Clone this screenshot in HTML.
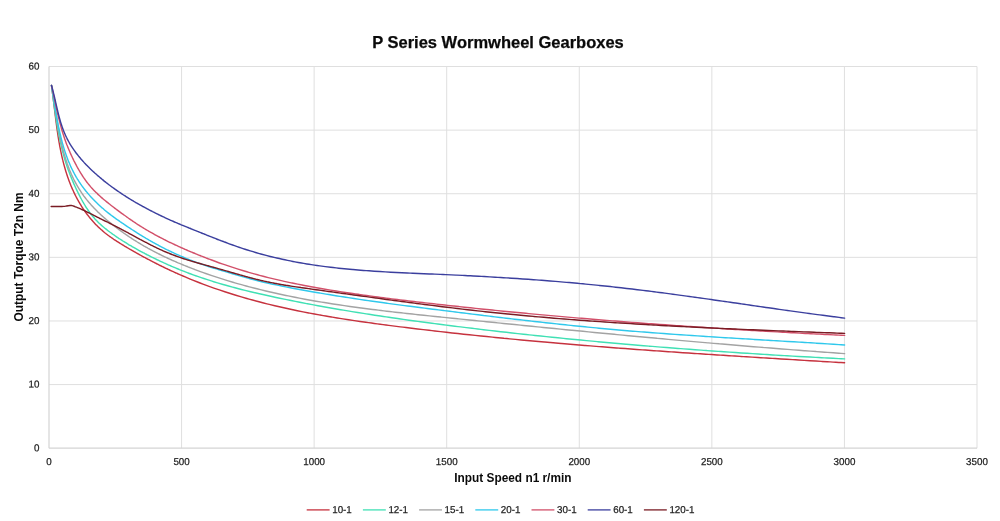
<!DOCTYPE html>
<html lang="en"><head><meta charset="utf-8"><title>P Series Wormwheel Gearboxes</title>
<style>
html,body{margin:0;padding:0;background:#fff;}
body{width:1000px;height:521px;overflow:hidden;font-family:"Liberation Sans",Arial,sans-serif;}
svg{display:block;}
.tick{font-family:"Liberation Sans",Arial,sans-serif;font-size:10.0px;fill:#1e1e1e;stroke:#1e1e1e;stroke-width:0.25px;}
.ttl{font-family:"Liberation Sans",Arial,sans-serif;font-weight:bold;fill:#0a0a0a;}
.ln{fill:none;stroke-width:1.42;stroke-linejoin:round;stroke-linecap:round;}
</style></head><body>
<svg width="1000" height="521" viewBox="0 0 1000 521">
<rect width="1000" height="521" fill="#ffffff"/>
<g stroke="#dfdfdf" stroke-width="1" fill="none"><line x1="49.00" y1="384.58" x2="977.00" y2="384.58"/><line x1="49.00" y1="320.97" x2="977.00" y2="320.97"/><line x1="49.00" y1="257.35" x2="977.00" y2="257.35"/><line x1="49.00" y1="193.73" x2="977.00" y2="193.73"/><line x1="49.00" y1="130.12" x2="977.00" y2="130.12"/><line x1="49.00" y1="66.50" x2="977.00" y2="66.50"/><line x1="181.57" y1="66.50" x2="181.57" y2="448.20"/><line x1="314.14" y1="66.50" x2="314.14" y2="448.20"/><line x1="446.71" y1="66.50" x2="446.71" y2="448.20"/><line x1="579.29" y1="66.50" x2="579.29" y2="448.20"/><line x1="711.86" y1="66.50" x2="711.86" y2="448.20"/><line x1="844.43" y1="66.50" x2="844.43" y2="448.20"/><line x1="977.00" y1="66.50" x2="977.00" y2="448.20"/></g>
<g stroke="#d4d4d4" stroke-width="1.2" fill="none"><line x1="49.00" y1="66.50" x2="49.00" y2="448.20"/><line x1="49.00" y1="448.20" x2="977.00" y2="448.20"/></g>
<text class="tick" transform="translate(39.50 451.20) rotate(0.05) scale(0.980 1)" text-anchor="end">0</text>
<text class="tick" transform="translate(39.50 387.58) rotate(0.05) scale(0.980 1)" text-anchor="end">10</text>
<text class="tick" transform="translate(39.50 323.97) rotate(0.05) scale(0.980 1)" text-anchor="end">20</text>
<text class="tick" transform="translate(39.50 260.35) rotate(0.05) scale(0.980 1)" text-anchor="end">30</text>
<text class="tick" transform="translate(39.50 196.73) rotate(0.05) scale(0.980 1)" text-anchor="end">40</text>
<text class="tick" transform="translate(39.50 133.12) rotate(0.05) scale(0.980 1)" text-anchor="end">50</text>
<text class="tick" transform="translate(39.50 69.50) rotate(0.05) scale(0.980 1)" text-anchor="end">60</text>
<text class="tick" transform="translate(49.00 465.00) rotate(0.05) scale(0.980 1)" text-anchor="middle">0</text>
<text class="tick" transform="translate(181.57 465.00) rotate(0.05) scale(0.980 1)" text-anchor="middle">500</text>
<text class="tick" transform="translate(314.14 465.00) rotate(0.05) scale(0.980 1)" text-anchor="middle">1000</text>
<text class="tick" transform="translate(446.71 465.00) rotate(0.05) scale(0.980 1)" text-anchor="middle">1500</text>
<text class="tick" transform="translate(579.29 465.00) rotate(0.05) scale(0.980 1)" text-anchor="middle">2000</text>
<text class="tick" transform="translate(711.86 465.00) rotate(0.05) scale(0.980 1)" text-anchor="middle">2500</text>
<text class="tick" transform="translate(844.43 465.00) rotate(0.05) scale(0.980 1)" text-anchor="middle">3000</text>
<text class="tick" transform="translate(977.00 465.00) rotate(0.05) scale(0.980 1)" text-anchor="middle">3500</text>
<text class="ttl" x="498.0" y="47.9" stroke="#0a0a0a" stroke-width="0.25" text-anchor="middle" font-size="16.5">P Series Wormwheel Gearboxes</text>
<text class="ttl" x="512.9" y="482.4" text-anchor="middle" font-size="11.85">Input Speed n1 r/min</text>
<text class="ttl" transform="translate(22.5 257.0) rotate(-90)" text-anchor="middle" font-size="11.95">Output Torque T2n Nm</text>
<path class="ln" stroke="#c6323e" d="M51.50 85.50 C51.55 85.85 51.70 86.89 51.79 87.59 C51.89 88.28 52.00 89.06 52.08 89.68 C52.16 90.29 52.24 90.91 52.29 91.25 C52.33 91.60 52.30 91.33 52.36 91.76 C52.41 92.20 52.54 93.15 52.63 93.85 C52.72 94.55 52.83 95.41 52.89 95.94 C52.96 96.46 52.98 96.66 53.03 97.01 C53.07 97.35 53.09 97.51 53.16 98.03 C53.22 98.54 53.33 99.42 53.41 100.11 C53.50 100.81 53.61 101.76 53.67 102.20 C53.72 102.64 53.69 102.41 53.74 102.76 C53.78 103.11 53.85 103.68 53.92 104.29 C53.99 104.89 54.09 105.68 54.17 106.37 C54.26 107.07 54.38 108.10 54.42 108.46 C54.46 108.81 54.39 108.16 54.43 108.51 C54.47 108.85 54.59 109.85 54.67 110.54 C54.76 111.23 54.85 112.01 54.92 112.62 C55.00 113.24 55.08 113.90 55.12 114.25 C55.16 114.60 55.13 114.28 55.18 114.71 C55.23 115.13 55.35 116.09 55.43 116.79 C55.52 117.48 55.63 118.34 55.69 118.87 C55.76 119.40 55.79 119.64 55.83 119.98 C55.88 120.33 55.89 120.44 55.95 120.95 C56.02 121.46 56.13 122.33 56.22 123.03 C56.31 123.72 56.44 124.66 56.50 125.10 C56.55 125.55 56.53 125.36 56.58 125.71 C56.62 126.06 56.69 126.59 56.78 127.18 C56.86 127.77 56.97 128.56 57.06 129.25 C57.16 129.95 57.31 130.96 57.36 131.33 C57.41 131.69 57.32 131.08 57.37 131.42 C57.42 131.77 57.56 132.72 57.66 133.40 C57.76 134.07 57.88 134.85 57.97 135.47 C58.07 136.09 58.18 136.78 58.23 137.13 C58.29 137.47 58.23 137.12 58.30 137.53 C58.37 137.95 58.52 138.91 58.63 139.60 C58.75 140.29 58.89 141.13 58.98 141.66 C59.07 142.20 59.12 142.47 59.18 142.82 C59.24 143.16 59.25 143.23 59.34 143.73 C59.43 144.22 59.59 145.10 59.71 145.78 C59.84 146.47 60.01 147.39 60.10 147.84 C60.19 148.29 60.16 148.15 60.23 148.49 C60.29 148.83 60.39 149.32 60.50 149.90 C60.62 150.47 60.78 151.27 60.92 151.95 C61.06 152.63 61.28 153.63 61.36 154.00 C61.43 154.37 61.31 153.80 61.39 154.15 C61.46 154.49 61.66 155.39 61.81 156.05 C61.96 156.70 62.13 157.47 62.28 158.09 C62.42 158.71 62.60 159.44 62.68 159.78 C62.76 160.12 62.67 159.74 62.77 160.13 C62.87 160.53 63.10 161.49 63.28 162.17 C63.45 162.85 63.67 163.67 63.81 164.21 C63.95 164.75 64.03 165.06 64.13 165.39 C64.22 165.73 64.22 165.76 64.36 166.24 C64.49 166.72 64.74 167.59 64.93 168.27 C65.13 168.94 65.39 169.84 65.53 170.29 C65.66 170.74 65.63 170.64 65.73 170.97 C65.84 171.31 65.97 171.75 66.14 172.30 C66.32 172.86 66.57 173.64 66.79 174.31 C67.00 174.98 67.33 175.95 67.45 176.31 C67.57 176.68 67.40 176.17 67.52 176.50 C67.63 176.83 67.92 177.67 68.14 178.31 C68.37 178.94 68.63 179.68 68.86 180.29 C69.08 180.90 69.37 181.64 69.49 181.97 C69.61 182.30 69.45 181.89 69.60 182.26 C69.75 182.64 70.11 183.58 70.37 184.23 C70.63 184.88 70.95 185.66 71.17 186.18 C71.38 186.70 71.53 187.04 71.67 187.36 C71.80 187.69 71.80 187.68 71.99 188.12 C72.19 188.57 72.56 189.41 72.85 190.05 C73.14 190.70 73.53 191.54 73.73 191.97 C73.93 192.41 73.90 192.35 74.06 192.66 C74.21 192.98 74.39 193.36 74.64 193.88 C74.89 194.39 75.26 195.14 75.58 195.77 C75.90 196.39 76.37 197.29 76.55 197.64 C76.73 197.99 76.50 197.55 76.67 197.86 C76.84 198.17 77.23 198.92 77.55 199.50 C77.87 200.08 78.26 200.77 78.59 201.35 C78.91 201.92 79.34 202.64 79.51 202.94 C79.69 203.25 79.44 202.83 79.65 203.17 C79.85 203.51 80.37 204.38 80.74 204.98 C81.11 205.58 81.56 206.29 81.87 206.77 C82.18 207.26 82.40 207.60 82.59 207.89 C82.79 208.19 82.76 208.15 83.03 208.55 C83.30 208.95 83.81 209.72 84.22 210.30 C84.62 210.88 85.15 211.63 85.44 212.03 C85.72 212.43 85.71 212.41 85.92 212.70 C86.12 212.98 86.34 213.29 86.69 213.74 C87.03 214.20 87.53 214.87 87.97 215.43 C88.40 215.98 89.03 216.77 89.28 217.09 C89.53 217.40 89.24 217.05 89.47 217.32 C89.69 217.59 90.20 218.22 90.62 218.72 C91.04 219.22 91.55 219.82 91.98 220.32 C92.42 220.83 93.00 221.48 93.24 221.74 C93.47 222.00 93.12 221.61 93.38 221.90 C93.64 222.18 94.32 222.93 94.80 223.44 C95.28 223.95 95.85 224.54 96.25 224.95 C96.66 225.36 96.97 225.68 97.22 225.92 C97.46 226.17 97.39 226.10 97.73 226.43 C98.07 226.75 98.73 227.40 99.23 227.87 C99.74 228.34 100.40 228.95 100.76 229.27 C101.12 229.60 101.14 229.61 101.40 229.84 C101.65 230.07 101.90 230.29 102.31 230.64 C102.73 231.00 103.36 231.53 103.89 231.97 C104.42 232.41 105.18 233.01 105.49 233.26 C105.80 233.52 105.49 233.27 105.76 233.48 C106.03 233.69 106.61 234.15 107.11 234.53 C107.61 234.91 108.23 235.37 108.75 235.76 C109.28 236.15 110.01 236.67 110.29 236.87 C110.56 237.07 110.11 236.75 110.42 236.96 C110.72 237.17 111.53 237.75 112.10 238.14 C112.66 238.53 113.32 238.97 113.79 239.30 C114.27 239.62 114.67 239.88 114.95 240.07 C115.24 240.26 115.12 240.18 115.50 240.43 C115.88 240.68 116.65 241.18 117.23 241.55 C117.81 241.92 118.55 242.39 118.97 242.65 C119.39 242.91 119.44 242.94 119.73 243.12 C120.02 243.30 120.26 243.46 120.72 243.74 C121.18 244.02 121.90 244.46 122.48 244.82 C123.07 245.17 123.91 245.67 124.26 245.88 C124.61 246.10 124.30 245.91 124.59 246.09 C124.89 246.26 125.50 246.63 126.04 246.95 C126.58 247.27 127.25 247.66 127.83 248.01 C128.41 248.35 129.23 248.83 129.53 249.00 C129.83 249.18 129.31 248.87 129.62 249.06 C129.94 249.24 130.83 249.76 131.43 250.11 C132.03 250.45 132.73 250.85 133.24 251.15 C133.75 251.44 134.21 251.70 134.52 251.87 C134.82 252.05 134.66 251.96 135.06 252.18 C135.45 252.41 136.28 252.87 136.89 253.21 C137.50 253.55 138.27 253.99 138.72 254.24 C139.16 254.48 139.25 254.53 139.56 254.70 C139.87 254.87 140.08 254.99 140.56 255.25 C141.03 255.51 141.79 255.93 142.40 256.26 C143.02 256.60 143.88 257.07 144.26 257.27 C144.63 257.47 144.34 257.32 144.65 257.48 C144.96 257.65 145.56 257.97 146.12 258.27 C146.67 258.56 147.37 258.93 147.98 259.26 C148.59 259.58 149.48 260.05 149.80 260.21 C150.11 260.38 149.53 260.07 149.85 260.24 C150.17 260.41 151.10 260.89 151.73 261.22 C152.35 261.54 153.07 261.91 153.61 262.19 C154.15 262.47 154.66 262.73 154.98 262.89 C155.29 263.05 155.10 262.95 155.50 263.15 C155.90 263.35 156.76 263.79 157.39 264.10 C158.02 264.42 158.82 264.82 159.29 265.05 C159.76 265.28 159.88 265.35 160.20 265.50 C160.52 265.66 160.71 265.75 161.19 265.99 C161.67 266.23 162.46 266.61 163.09 266.92 C163.73 267.23 164.61 267.65 165.00 267.84 C165.40 268.04 165.14 267.91 165.46 268.06 C165.78 268.22 166.36 268.49 166.92 268.76 C167.48 269.03 168.20 269.37 168.84 269.67 C169.48 269.97 170.43 270.41 170.75 270.56 C171.07 270.71 170.44 270.41 170.76 270.56 C171.08 270.71 172.04 271.16 172.69 271.45 C173.33 271.75 174.05 272.08 174.62 272.33 C175.18 272.59 175.74 272.84 176.06 272.99 C176.39 273.13 176.15 273.02 176.55 273.20 C176.95 273.38 177.84 273.78 178.48 274.07 C179.13 274.35 179.94 274.71 180.42 274.92 C180.91 275.13 181.08 275.21 181.40 275.35 C181.73 275.49 181.47 275.38 182.37 275.76 C183.26 276.14 185.13 276.95 186.76 277.63 C188.39 278.32 190.35 279.12 192.14 279.85 C193.94 280.58 195.74 281.30 197.54 282.00 C199.34 282.71 201.15 283.40 202.96 284.08 C204.77 284.77 206.58 285.44 208.39 286.10 C210.21 286.76 212.03 287.41 213.85 288.05 C215.67 288.69 217.49 289.32 219.31 289.94 C221.14 290.56 222.97 291.17 224.80 291.77 C226.63 292.36 228.46 292.95 230.30 293.53 C232.14 294.11 233.98 294.68 235.82 295.24 C237.66 295.80 239.50 296.36 241.35 296.90 C243.19 297.44 245.04 297.97 246.89 298.50 C248.74 299.02 250.60 299.54 252.45 300.04 C254.31 300.55 256.17 301.05 258.03 301.54 C259.89 302.03 261.75 302.51 263.61 302.98 C265.48 303.46 267.34 303.92 269.21 304.38 C271.08 304.84 272.95 305.29 274.82 305.73 C276.69 306.17 278.57 306.61 280.44 307.03 C282.32 307.46 284.20 307.88 286.08 308.30 C287.96 308.71 289.84 309.12 291.72 309.51 C293.60 309.91 295.49 310.31 297.37 310.69 C299.26 311.08 301.15 311.46 303.04 311.83 C304.93 312.21 306.82 312.58 308.71 312.94 C310.60 313.30 312.49 313.65 314.39 314.00 C316.28 314.35 318.18 314.70 320.08 315.04 C321.98 315.38 323.87 315.71 325.77 316.04 C327.67 316.37 329.58 316.69 331.48 317.01 C333.38 317.33 335.28 317.64 337.19 317.95 C339.09 318.26 341.00 318.56 342.90 318.86 C344.81 319.17 346.72 319.46 348.63 319.75 C350.53 320.04 352.44 320.33 354.35 320.62 C356.26 320.90 358.17 321.18 360.08 321.46 C362.00 321.73 363.91 322.01 365.82 322.28 C367.73 322.55 369.65 322.81 371.56 323.07 C373.47 323.34 375.39 323.60 377.30 323.86 C379.22 324.11 381.13 324.37 383.05 324.62 C384.96 324.87 386.88 325.12 388.79 325.37 C390.71 325.62 392.63 325.87 394.54 326.11 C396.46 326.35 398.38 326.59 400.29 326.83 C402.21 327.07 404.13 327.31 406.05 327.55 C407.96 327.79 409.88 328.02 411.80 328.25 C413.71 328.49 415.63 328.72 417.55 328.95 C419.47 329.18 421.39 329.41 423.30 329.63 C425.22 329.86 427.14 330.09 429.06 330.31 C430.98 330.53 432.89 330.76 434.81 330.98 C436.73 331.20 438.65 331.42 440.57 331.63 C442.49 331.85 444.41 332.07 446.32 332.28 C448.24 332.50 450.16 332.71 452.08 332.92 C454.00 333.13 455.92 333.34 457.84 333.55 C459.76 333.76 461.68 333.97 463.60 334.17 C465.52 334.38 467.44 334.58 469.36 334.78 C471.28 334.99 473.20 335.19 475.12 335.39 C477.04 335.59 478.96 335.79 480.88 335.98 C482.80 336.18 484.72 336.38 486.64 336.57 C488.56 336.77 490.48 336.96 492.40 337.15 C494.32 337.34 496.24 337.53 498.16 337.72 C500.08 337.91 502.00 338.10 503.92 338.29 C505.84 338.47 507.77 338.66 509.69 338.84 C511.61 339.03 513.53 339.21 515.45 339.39 C517.37 339.57 519.29 339.75 521.22 339.93 C523.14 340.11 525.06 340.29 526.98 340.47 C528.90 340.64 530.82 340.82 532.75 340.99 C534.67 341.17 536.59 341.34 538.51 341.51 C540.43 341.68 542.36 341.86 544.28 342.03 C546.20 342.20 548.12 342.36 550.05 342.53 C551.97 342.70 553.89 342.87 555.81 343.03 C557.74 343.20 559.66 343.36 561.58 343.53 C563.50 343.69 565.43 343.85 567.35 344.01 C569.27 344.17 571.20 344.34 573.12 344.49 C575.04 344.65 576.96 344.81 578.89 344.97 C580.81 345.13 582.73 345.28 584.66 345.44 C586.58 345.60 588.50 345.75 590.43 345.90 C592.35 346.06 594.28 346.21 596.20 346.36 C598.12 346.51 600.05 346.66 601.97 346.81 C603.89 346.96 605.82 347.11 607.74 347.26 C609.67 347.41 611.59 347.56 613.51 347.70 C615.44 347.85 617.36 348.00 619.29 348.14 C621.21 348.29 623.13 348.43 625.06 348.57 C626.98 348.72 628.91 348.86 630.83 349.00 C632.76 349.14 634.68 349.29 636.61 349.43 C638.53 349.57 640.45 349.71 642.38 349.85 C644.30 349.98 646.23 350.12 648.15 350.26 C650.08 350.40 652.00 350.53 653.93 350.67 C655.85 350.81 657.78 350.94 659.70 351.08 C661.63 351.21 663.55 351.35 665.48 351.48 C667.40 351.61 669.33 351.75 671.25 351.88 C673.18 352.01 675.10 352.14 677.03 352.27 C678.95 352.40 680.88 352.54 682.80 352.67 C684.73 352.80 686.66 352.92 688.58 353.05 C690.51 353.18 692.43 353.31 694.36 353.44 C696.28 353.57 698.21 353.69 700.13 353.82 C702.06 353.95 703.99 354.07 705.91 354.20 C707.84 354.33 709.76 354.45 711.69 354.58 C713.61 354.70 715.54 354.83 717.47 354.95 C719.39 355.08 721.32 355.20 723.24 355.32 C725.17 355.45 727.09 355.57 729.02 355.69 C730.95 355.81 732.87 355.94 734.80 356.06 C736.72 356.18 738.65 356.30 740.58 356.42 C742.50 356.55 744.43 356.67 746.35 356.79 C748.28 356.91 750.21 357.03 752.13 357.15 C754.06 357.27 755.99 357.39 757.91 357.51 C759.84 357.63 761.76 357.75 763.69 357.87 C765.62 357.99 767.54 358.10 769.47 358.22 C771.40 358.34 773.32 358.46 775.25 358.58 C777.17 358.70 779.10 358.81 781.03 358.93 C782.95 359.05 784.88 359.17 786.81 359.29 C788.73 359.40 790.66 359.52 792.59 359.64 C794.51 359.76 796.44 359.87 798.36 359.99 C800.29 360.11 802.22 360.23 804.14 360.34 C806.07 360.46 808.00 360.58 809.92 360.69 C811.85 360.81 813.78 360.93 815.70 361.04 C817.63 361.16 819.56 361.28 821.48 361.40 C823.41 361.51 825.34 361.63 827.26 361.75 C829.19 361.86 831.11 361.98 833.04 362.10 C834.97 362.21 836.89 362.33 838.82 362.45 C840.75 362.57 843.64 362.74 844.60 362.80"/>
<path class="ln" stroke="#40e0b4" d="M51.50 85.50 C51.55 85.85 51.69 86.89 51.78 87.58 C51.88 88.27 51.98 89.06 52.06 89.66 C52.14 90.26 52.22 90.85 52.27 91.20 C52.31 91.54 52.28 91.30 52.34 91.74 C52.40 92.18 52.52 93.13 52.62 93.82 C52.71 94.52 52.82 95.39 52.89 95.91 C52.96 96.42 52.98 96.56 53.02 96.90 C53.07 97.25 53.10 97.46 53.17 97.99 C53.24 98.52 53.35 99.38 53.45 100.08 C53.54 100.77 53.67 101.74 53.73 102.16 C53.78 102.58 53.74 102.26 53.79 102.61 C53.83 102.96 53.92 103.63 54.01 104.24 C54.09 104.86 54.20 105.65 54.29 106.33 C54.39 107.01 54.52 107.97 54.57 108.32 C54.62 108.67 54.53 108.05 54.58 108.41 C54.63 108.78 54.77 109.80 54.87 110.50 C54.97 111.19 55.09 111.99 55.17 112.58 C55.26 113.17 55.33 113.68 55.38 114.03 C55.43 114.37 55.41 114.21 55.47 114.66 C55.54 115.11 55.68 116.05 55.78 116.74 C55.89 117.43 56.02 118.32 56.10 118.82 C56.18 119.32 56.19 119.37 56.24 119.72 C56.29 120.07 56.34 120.35 56.42 120.90 C56.51 121.44 56.64 122.28 56.76 122.97 C56.87 123.66 57.03 124.64 57.10 125.04 C57.17 125.45 57.10 125.06 57.16 125.40 C57.22 125.75 57.34 126.48 57.45 127.11 C57.56 127.74 57.69 128.52 57.81 129.18 C57.93 129.84 58.09 130.72 58.15 131.06 C58.21 131.41 58.11 130.87 58.18 131.24 C58.25 131.62 58.44 132.62 58.57 133.31 C58.70 133.99 58.85 134.80 58.96 135.36 C59.07 135.93 59.16 136.36 59.23 136.70 C59.30 137.04 59.28 136.96 59.37 137.42 C59.47 137.88 59.65 138.79 59.79 139.47 C59.94 140.15 60.13 141.04 60.23 141.52 C60.33 141.99 60.33 141.97 60.41 142.31 C60.48 142.65 60.56 143.01 60.68 143.56 C60.81 144.11 60.99 144.92 61.15 145.60 C61.31 146.28 61.54 147.25 61.63 147.63 C61.73 148.01 61.61 147.56 61.70 147.89 C61.78 148.23 61.98 149.03 62.13 149.66 C62.29 150.29 62.49 151.06 62.65 151.68 C62.82 152.31 63.03 153.10 63.12 153.44 C63.21 153.77 63.08 153.32 63.19 153.70 C63.29 154.08 63.56 155.05 63.74 155.72 C63.93 156.39 64.16 157.19 64.32 157.72 C64.47 158.26 64.58 158.61 64.68 158.94 C64.78 159.27 64.77 159.26 64.91 159.73 C65.05 160.19 65.32 161.06 65.53 161.72 C65.74 162.39 66.02 163.26 66.16 163.71 C66.31 164.16 66.28 164.07 66.39 164.40 C66.50 164.73 66.64 165.15 66.82 165.70 C67.01 166.24 67.27 167.02 67.50 167.67 C67.73 168.33 68.07 169.29 68.20 169.65 C68.33 170.00 68.14 169.49 68.26 169.81 C68.38 170.14 68.68 170.99 68.92 171.62 C69.15 172.24 69.43 172.98 69.66 173.58 C69.89 174.18 70.16 174.87 70.28 175.19 C70.41 175.52 70.27 175.16 70.42 175.54 C70.57 175.92 70.94 176.84 71.20 177.49 C71.46 178.15 71.79 178.94 72.00 179.45 C72.21 179.95 72.33 180.22 72.46 180.54 C72.60 180.87 72.62 180.93 72.83 181.39 C73.03 181.86 73.38 182.69 73.67 183.34 C73.95 183.99 74.34 184.86 74.53 185.28 C74.72 185.70 74.65 185.54 74.80 185.87 C74.95 186.19 75.16 186.67 75.42 187.22 C75.67 187.77 76.02 188.51 76.32 189.16 C76.63 189.80 77.09 190.75 77.25 191.09 C77.41 191.42 77.13 190.85 77.29 191.17 C77.44 191.49 77.88 192.39 78.19 193.01 C78.51 193.64 78.87 194.36 79.16 194.93 C79.45 195.50 79.76 196.10 79.93 196.42 C80.09 196.73 79.94 196.45 80.15 196.83 C80.35 197.22 80.81 198.10 81.15 198.72 C81.49 199.35 81.92 200.12 82.18 200.59 C82.44 201.06 82.55 201.24 82.72 201.55 C82.90 201.85 82.96 201.98 83.23 202.43 C83.49 202.88 83.94 203.65 84.29 204.25 C84.65 204.85 85.15 205.66 85.38 206.03 C85.61 206.41 85.48 206.20 85.67 206.49 C85.85 206.78 86.16 207.28 86.49 207.78 C86.82 208.29 87.24 208.93 87.62 209.50 C88.00 210.07 88.58 210.90 88.77 211.18 C88.96 211.46 88.58 210.91 88.78 211.18 C88.97 211.46 89.56 212.28 89.96 212.83 C90.36 213.37 90.82 213.98 91.18 214.44 C91.54 214.90 91.89 215.34 92.10 215.61 C92.31 215.87 92.17 215.69 92.44 216.02 C92.71 216.35 93.30 217.06 93.74 217.57 C94.18 218.08 94.76 218.71 95.09 219.09 C95.43 219.46 95.52 219.55 95.75 219.80 C95.98 220.04 96.13 220.20 96.49 220.57 C96.86 220.95 97.45 221.55 97.94 222.03 C98.43 222.51 99.13 223.17 99.44 223.46 C99.74 223.75 99.51 223.53 99.76 223.76 C100.02 224.00 100.51 224.45 100.97 224.86 C101.44 225.28 102.03 225.80 102.54 226.24 C103.06 226.68 103.80 227.30 104.07 227.53 C104.34 227.75 103.86 227.36 104.15 227.59 C104.43 227.82 105.23 228.48 105.78 228.92 C106.32 229.35 106.96 229.85 107.43 230.22 C107.89 230.58 108.30 230.89 108.58 231.10 C108.86 231.32 108.73 231.22 109.10 231.50 C109.46 231.77 110.22 232.34 110.78 232.75 C111.34 233.17 112.07 233.69 112.48 233.99 C112.88 234.28 112.93 234.31 113.21 234.51 C113.50 234.72 113.74 234.89 114.19 235.20 C114.64 235.52 115.33 236.00 115.91 236.40 C116.48 236.79 117.30 237.34 117.64 237.57 C117.98 237.80 117.65 237.58 117.94 237.77 C118.23 237.96 118.85 238.38 119.39 238.73 C119.92 239.08 120.58 239.51 121.15 239.87 C121.71 240.23 122.46 240.71 122.75 240.89 C123.05 241.08 122.59 240.79 122.91 241.00 C123.24 241.20 124.10 241.74 124.69 242.11 C125.29 242.47 125.99 242.90 126.48 243.20 C126.97 243.50 127.34 243.72 127.64 243.90 C127.94 244.08 127.87 244.04 128.28 244.28 C128.68 244.52 129.48 245.00 130.08 245.35 C130.69 245.71 131.48 246.16 131.90 246.41 C132.32 246.65 132.30 246.64 132.61 246.81 C132.91 246.99 133.23 247.17 133.73 247.45 C134.22 247.73 134.95 248.15 135.56 248.49 C136.17 248.83 137.05 249.32 137.40 249.52 C137.74 249.71 137.32 249.47 137.63 249.64 C137.94 249.81 138.67 250.22 139.25 250.53 C139.83 250.85 140.52 251.23 141.10 251.54 C141.68 251.85 142.40 252.24 142.71 252.40 C143.02 252.57 142.61 252.35 142.97 252.54 C143.32 252.72 144.21 253.20 144.83 253.52 C145.46 253.85 146.21 254.24 146.71 254.50 C147.21 254.76 147.53 254.92 147.85 255.09 C148.16 255.25 148.15 255.24 148.59 255.47 C149.03 255.69 149.85 256.11 150.48 256.42 C151.11 256.74 151.95 257.16 152.38 257.37 C152.80 257.58 152.71 257.54 153.03 257.69 C153.35 257.85 153.75 258.05 154.28 258.31 C154.81 258.57 155.55 258.93 156.19 259.24 C156.82 259.54 157.75 259.99 158.10 260.15 C158.44 260.32 157.94 260.08 158.26 260.23 C158.58 260.38 159.40 260.77 160.02 261.06 C160.63 261.35 161.36 261.68 161.94 261.95 C162.52 262.22 163.20 262.53 163.52 262.68 C163.84 262.83 163.49 262.67 163.87 262.84 C164.25 263.01 165.16 263.42 165.80 263.71 C166.45 264.00 167.23 264.36 167.74 264.58 C168.24 264.80 168.50 264.92 168.83 265.06 C169.15 265.20 169.21 265.23 169.68 265.43 C170.15 265.64 170.98 266.00 171.63 266.28 C172.27 266.56 173.15 266.93 173.57 267.11 C174.00 267.29 173.83 267.22 174.16 267.36 C174.48 267.49 174.97 267.70 175.53 267.93 C176.08 268.16 176.83 268.48 177.48 268.74 C178.14 269.01 179.11 269.41 179.44 269.54 C179.78 269.68 179.19 269.44 179.52 269.58 C179.85 269.71 180.77 270.08 181.41 270.33 C182.05 270.59 182.79 270.88 183.37 271.11 C183.96 271.34 184.57 271.58 184.90 271.71 C185.23 271.84 184.94 271.73 185.34 271.88 C185.74 272.04 186.49 272.32 187.31 272.64 C188.14 272.95 188.90 273.25 190.31 273.77 C191.71 274.28 193.91 275.09 195.72 275.74 C197.53 276.38 199.34 277.01 201.16 277.63 C202.97 278.25 204.78 278.85 206.60 279.44 C208.42 280.04 210.24 280.62 212.06 281.19 C213.88 281.76 215.71 282.32 217.53 282.86 C219.36 283.41 221.19 283.95 223.02 284.48 C224.85 285.01 226.68 285.52 228.52 286.03 C230.35 286.54 232.19 287.04 234.03 287.53 C235.87 288.02 237.71 288.50 239.55 288.97 C241.39 289.45 243.24 289.91 245.08 290.37 C246.93 290.83 248.78 291.28 250.63 291.72 C252.48 292.16 254.33 292.60 256.18 293.03 C258.04 293.46 259.89 293.89 261.75 294.31 C263.61 294.73 265.47 295.14 267.33 295.55 C269.19 295.96 271.05 296.37 272.91 296.77 C274.78 297.17 276.64 297.57 278.51 297.96 C280.38 298.35 282.25 298.74 284.11 299.13 C285.98 299.51 287.86 299.90 289.73 300.27 C291.60 300.65 293.48 301.03 295.35 301.40 C297.23 301.77 299.10 302.14 300.98 302.50 C302.86 302.87 304.74 303.23 306.62 303.59 C308.50 303.95 310.38 304.30 312.27 304.65 C314.15 305.01 316.03 305.35 317.92 305.70 C319.81 306.05 321.69 306.39 323.58 306.73 C325.47 307.07 327.36 307.40 329.25 307.73 C331.14 308.07 333.03 308.40 334.92 308.73 C336.81 309.05 338.70 309.38 340.60 309.70 C342.49 310.02 344.39 310.34 346.28 310.65 C348.18 310.97 350.07 311.28 351.97 311.59 C353.87 311.90 355.77 312.21 357.67 312.52 C359.56 312.82 361.46 313.12 363.36 313.42 C365.26 313.72 367.17 314.02 369.07 314.32 C370.97 314.61 372.87 314.90 374.77 315.19 C376.68 315.48 378.58 315.77 380.48 316.06 C382.39 316.34 384.29 316.63 386.20 316.91 C388.10 317.19 390.01 317.47 391.91 317.74 C393.82 318.02 395.73 318.29 397.63 318.57 C399.54 318.84 401.44 319.11 403.35 319.38 C405.26 319.65 407.17 319.91 409.07 320.18 C410.98 320.44 412.89 320.70 414.80 320.97 C416.71 321.23 418.61 321.49 420.52 321.74 C422.43 322.00 424.34 322.26 426.25 322.51 C428.16 322.76 430.07 323.01 431.97 323.27 C433.88 323.52 435.79 323.76 437.70 324.01 C439.61 324.26 441.52 324.51 443.43 324.75 C445.34 324.99 447.24 325.24 449.15 325.48 C451.06 325.72 452.97 325.96 454.88 326.20 C456.79 326.44 458.69 326.68 460.60 326.91 C462.51 327.15 464.42 327.38 466.32 327.62 C468.23 327.85 470.14 328.08 472.05 328.31 C473.96 328.54 475.86 328.77 477.77 329.00 C479.68 329.23 481.58 329.46 483.49 329.68 C485.40 329.91 487.31 330.13 489.21 330.35 C491.12 330.58 493.03 330.80 494.93 331.02 C496.84 331.24 498.75 331.46 500.65 331.67 C502.56 331.89 504.47 332.11 506.37 332.32 C508.28 332.54 510.19 332.75 512.09 332.96 C514.00 333.18 515.91 333.39 517.81 333.60 C519.72 333.81 521.63 334.01 523.53 334.22 C525.44 334.43 527.34 334.63 529.25 334.84 C531.16 335.04 533.06 335.25 534.97 335.45 C536.88 335.65 538.78 335.85 540.69 336.05 C542.59 336.25 544.50 336.45 546.41 336.65 C548.31 336.84 550.22 337.04 552.13 337.24 C554.03 337.43 555.94 337.62 557.84 337.82 C559.75 338.01 561.66 338.20 563.56 338.39 C565.47 338.58 567.37 338.77 569.28 338.96 C571.19 339.14 573.09 339.33 575.00 339.52 C576.91 339.70 578.81 339.89 580.72 340.07 C582.62 340.25 584.53 340.43 586.44 340.61 C588.34 340.79 590.25 340.97 592.16 341.15 C594.06 341.33 595.97 341.51 597.88 341.68 C599.78 341.86 601.69 342.03 603.60 342.21 C605.50 342.38 607.41 342.55 609.32 342.73 C611.22 342.90 613.13 343.07 615.04 343.24 C616.94 343.41 618.85 343.57 620.76 343.74 C622.66 343.91 624.57 344.08 626.48 344.24 C628.38 344.41 630.29 344.57 632.20 344.73 C634.11 344.89 636.01 345.06 637.92 345.22 C639.83 345.38 641.74 345.54 643.64 345.70 C645.55 345.85 647.46 346.01 649.37 346.17 C651.28 346.32 653.18 346.48 655.09 346.63 C657.00 346.79 658.91 346.94 660.82 347.09 C662.72 347.25 664.63 347.40 666.54 347.55 C668.45 347.70 670.36 347.85 672.27 348.00 C674.18 348.14 676.09 348.29 677.99 348.44 C679.90 348.58 681.81 348.73 683.72 348.87 C685.63 349.02 687.54 349.16 689.45 349.30 C691.36 349.45 693.27 349.59 695.18 349.73 C697.09 349.87 699.00 350.01 700.91 350.15 C702.82 350.29 704.73 350.42 706.64 350.56 C708.55 350.70 710.46 350.83 712.38 350.97 C714.29 351.10 716.20 351.23 718.11 351.37 C720.02 351.50 721.93 351.63 723.84 351.76 C725.76 351.89 727.67 352.02 729.58 352.15 C731.49 352.28 733.40 352.41 735.32 352.54 C737.23 352.67 739.14 352.79 741.06 352.92 C742.97 353.04 744.88 353.17 746.80 353.29 C748.71 353.42 750.62 353.54 752.54 353.66 C754.45 353.78 756.36 353.90 758.28 354.03 C760.19 354.15 762.11 354.26 764.02 354.38 C765.94 354.50 767.85 354.62 769.77 354.74 C771.68 354.85 773.60 354.97 775.51 355.09 C777.43 355.20 779.35 355.32 781.26 355.43 C783.18 355.54 785.09 355.66 787.01 355.77 C788.93 355.88 790.85 355.99 792.76 356.10 C794.68 356.21 796.60 356.32 798.52 356.43 C800.43 356.54 802.35 356.65 804.27 356.76 C806.19 356.86 808.11 356.97 810.03 357.08 C811.94 357.18 813.86 357.29 815.78 357.39 C817.70 357.49 819.62 357.60 821.54 357.70 C823.46 357.80 825.38 357.91 827.30 358.01 C829.23 358.11 831.15 358.21 833.07 358.31 C834.99 358.41 836.91 358.51 838.83 358.61 C840.76 358.71 843.64 358.85 844.60 358.90"/>
<path class="ln" stroke="#a3a3a3" d="M51.50 85.50 C51.56 85.84 51.74 86.84 51.86 87.52 C51.98 88.19 52.11 88.96 52.21 89.54 C52.31 90.12 52.40 90.66 52.46 91.00 C52.52 91.34 52.49 91.14 52.56 91.58 C52.63 92.01 52.79 92.94 52.90 93.62 C53.01 94.30 53.15 95.18 53.23 95.67 C53.31 96.16 53.32 96.22 53.37 96.56 C53.43 96.90 53.47 97.18 53.56 97.72 C53.64 98.26 53.78 99.10 53.88 99.78 C53.99 100.47 54.14 101.45 54.21 101.85 C54.27 102.25 54.20 101.82 54.26 102.17 C54.31 102.52 54.43 103.29 54.53 103.92 C54.62 104.56 54.75 105.35 54.85 106.00 C54.95 106.65 55.07 107.47 55.13 107.82 C55.18 108.16 55.11 107.69 55.17 108.08 C55.23 108.47 55.38 109.47 55.49 110.17 C55.59 110.86 55.72 111.70 55.81 112.25 C55.90 112.81 55.95 113.14 56.00 113.49 C56.06 113.84 56.06 113.85 56.14 114.34 C56.21 114.84 56.35 115.74 56.47 116.44 C56.58 117.13 56.73 118.07 56.80 118.53 C56.87 118.99 56.85 118.83 56.90 119.18 C56.96 119.52 57.04 120.03 57.14 120.62 C57.24 121.21 57.37 122.02 57.49 122.72 C57.60 123.42 57.78 124.45 57.84 124.81 C57.90 125.17 57.79 124.52 57.85 124.87 C57.91 125.22 58.08 126.22 58.20 126.91 C58.33 127.59 58.47 128.39 58.58 129.00 C58.69 129.60 58.80 130.20 58.86 130.55 C58.92 130.90 58.88 130.65 58.96 131.09 C59.04 131.52 59.22 132.48 59.35 133.17 C59.49 133.87 59.66 134.75 59.76 135.26 C59.86 135.77 59.88 135.87 59.95 136.22 C60.02 136.57 60.07 136.81 60.18 137.34 C60.29 137.87 60.47 138.72 60.61 139.41 C60.76 140.11 60.97 141.08 61.06 141.49 C61.15 141.89 61.07 141.51 61.15 141.86 C61.22 142.20 61.38 142.93 61.53 143.55 C61.67 144.18 61.86 144.96 62.01 145.61 C62.17 146.26 62.38 147.11 62.46 147.46 C62.54 147.80 62.42 147.29 62.51 147.67 C62.61 148.04 62.85 149.03 63.03 149.71 C63.21 150.39 63.42 151.20 63.57 151.75 C63.71 152.30 63.82 152.67 63.91 153.00 C64.00 153.34 63.99 153.32 64.13 153.78 C64.26 154.25 64.51 155.13 64.71 155.81 C64.91 156.48 65.18 157.37 65.31 157.82 C65.45 158.27 65.41 158.16 65.52 158.49 C65.62 158.83 65.76 159.27 65.94 159.82 C66.12 160.38 66.37 161.16 66.59 161.82 C66.81 162.48 67.15 163.45 67.27 163.80 C67.39 164.15 67.19 163.58 67.30 163.91 C67.42 164.23 67.74 165.14 67.97 165.77 C68.20 166.41 68.48 167.16 68.70 167.73 C68.92 168.31 69.16 168.91 69.28 169.24 C69.41 169.56 69.30 169.28 69.46 169.68 C69.62 170.08 69.98 170.97 70.25 171.62 C70.51 172.26 70.86 173.06 71.06 173.54 C71.27 174.01 71.33 174.15 71.47 174.47 C71.62 174.79 71.69 174.97 71.91 175.44 C72.13 175.92 72.49 176.71 72.79 177.34 C73.09 177.97 73.52 178.84 73.70 179.22 C73.88 179.59 73.74 179.29 73.89 179.60 C74.05 179.91 74.35 180.52 74.64 181.08 C74.93 181.63 75.30 182.33 75.62 182.92 C75.93 183.51 76.38 184.31 76.55 184.61 C76.71 184.92 76.44 184.43 76.62 184.75 C76.81 185.08 77.31 185.96 77.66 186.56 C78.02 187.16 78.44 187.87 78.74 188.36 C79.03 188.85 79.26 189.20 79.44 189.50 C79.63 189.79 79.59 189.73 79.84 190.13 C80.10 190.53 80.60 191.31 80.99 191.89 C81.37 192.47 81.90 193.23 82.17 193.62 C82.43 194.02 82.40 193.96 82.60 194.25 C82.80 194.53 83.04 194.88 83.38 195.34 C83.72 195.81 84.21 196.48 84.63 197.04 C85.05 197.60 85.69 198.41 85.92 198.71 C86.15 199.01 85.80 198.57 86.02 198.84 C86.24 199.12 86.81 199.84 87.24 200.36 C87.67 200.89 88.19 201.51 88.59 202.00 C89.00 202.48 89.46 203.01 89.69 203.28 C89.93 203.55 89.70 203.29 89.98 203.60 C90.26 203.92 90.92 204.66 91.39 205.19 C91.86 205.71 92.46 206.36 92.82 206.75 C93.19 207.14 93.33 207.29 93.57 207.54 C93.81 207.80 93.92 207.91 94.28 208.29 C94.64 208.66 95.26 209.30 95.75 209.80 C96.25 210.30 96.93 210.98 97.24 211.28 C97.55 211.59 97.34 211.38 97.59 211.63 C97.84 211.87 98.30 212.32 98.74 212.75 C99.19 213.17 99.77 213.72 100.26 214.18 C100.76 214.65 101.46 215.29 101.72 215.53 C101.97 215.77 101.52 215.36 101.79 215.60 C102.06 215.84 102.82 216.53 103.34 217.00 C103.86 217.46 104.46 217.99 104.90 218.37 C105.34 218.75 105.69 219.06 105.95 219.28 C106.21 219.51 106.12 219.43 106.47 219.73 C106.83 220.03 107.53 220.63 108.06 221.07 C108.59 221.51 109.29 222.09 109.66 222.39 C110.03 222.70 110.02 222.68 110.29 222.90 C110.55 223.12 110.84 223.35 111.28 223.70 C111.71 224.05 112.36 224.56 112.90 224.99 C113.45 225.42 114.24 226.04 114.54 226.27 C114.85 226.51 114.44 226.20 114.72 226.41 C114.99 226.62 115.67 227.14 116.20 227.54 C116.72 227.94 117.35 228.42 117.86 228.80 C118.37 229.18 118.96 229.61 119.24 229.82 C119.52 230.03 119.21 229.80 119.54 230.04 C119.87 230.28 120.66 230.86 121.22 231.27 C121.79 231.68 122.49 232.18 122.92 232.49 C123.36 232.80 123.56 232.94 123.85 233.14 C124.13 233.35 124.22 233.41 124.63 233.70 C125.05 233.99 125.78 234.49 126.36 234.89 C126.93 235.29 127.73 235.82 128.09 236.07 C128.45 236.32 128.25 236.18 128.54 236.37 C128.83 236.57 129.32 236.90 129.83 237.24 C130.34 237.57 131.01 238.01 131.59 238.39 C132.17 238.77 133.01 239.31 133.31 239.50 C133.60 239.69 133.05 239.34 133.35 239.53 C133.65 239.72 134.53 240.28 135.12 240.65 C135.72 241.03 136.40 241.45 136.91 241.76 C137.41 242.08 137.85 242.34 138.15 242.53 C138.45 242.71 138.31 242.63 138.70 242.86 C139.09 243.10 139.90 243.59 140.50 243.94 C141.11 244.30 141.89 244.76 142.31 245.01 C142.74 245.26 142.76 245.27 143.06 245.45 C143.37 245.62 143.65 245.79 144.13 246.07 C144.62 246.34 145.35 246.76 145.96 247.11 C146.57 247.45 147.45 247.94 147.80 248.13 C148.15 248.33 147.73 248.10 148.04 248.27 C148.35 248.43 149.07 248.83 149.65 249.15 C150.22 249.46 150.93 249.84 151.50 250.15 C152.07 250.45 152.77 250.82 153.08 250.98 C153.39 251.15 153.00 250.94 153.36 251.13 C153.72 251.32 154.60 251.78 155.23 252.10 C155.85 252.43 156.61 252.81 157.10 253.06 C157.59 253.31 157.86 253.45 158.17 253.60 C158.48 253.76 158.54 253.79 158.99 254.01 C159.44 254.24 160.24 254.64 160.88 254.95 C161.51 255.26 162.37 255.67 162.77 255.87 C163.18 256.07 163.00 255.98 163.31 256.13 C163.63 256.28 164.13 256.52 164.67 256.78 C165.22 257.04 165.95 257.38 166.58 257.68 C167.22 257.98 168.18 258.42 168.50 258.57 C168.82 258.72 168.18 258.42 168.50 258.57 C168.82 258.72 169.78 259.15 170.42 259.44 C171.06 259.73 171.79 260.06 172.34 260.31 C172.90 260.55 173.41 260.78 173.73 260.92 C174.06 261.07 173.86 260.98 174.27 261.16 C174.69 261.34 175.56 261.72 176.21 262.00 C176.86 262.28 177.68 262.64 178.15 262.84 C178.62 263.03 178.68 263.06 179.00 263.20 C179.33 263.33 179.59 263.45 180.09 263.66 C180.60 263.87 181.39 264.20 182.04 264.47 C182.69 264.74 183.62 265.11 184.00 265.27 C184.37 265.42 183.98 265.26 184.30 265.39 C184.63 265.53 185.35 265.82 185.96 266.06 C186.56 266.30 187.30 266.60 187.92 266.84 C188.53 267.08 189.31 267.39 189.63 267.52 C189.96 267.65 189.51 267.47 189.88 267.61 C190.25 267.76 191.19 268.12 191.85 268.37 C192.50 268.63 193.30 268.93 193.82 269.13 C194.34 269.33 193.90 269.17 194.99 269.57 C196.08 269.98 198.57 270.91 200.36 271.56 C202.16 272.21 203.95 272.85 205.75 273.48 C207.55 274.12 209.35 274.74 211.15 275.35 C212.96 275.96 214.76 276.56 216.57 277.16 C218.38 277.75 220.19 278.33 222.00 278.91 C223.82 279.48 225.63 280.04 227.45 280.60 C229.27 281.16 231.09 281.70 232.91 282.24 C234.73 282.78 236.55 283.30 238.38 283.82 C240.21 284.34 242.03 284.85 243.86 285.36 C245.69 285.86 247.53 286.35 249.36 286.84 C251.19 287.33 253.03 287.80 254.87 288.27 C256.71 288.74 258.54 289.20 260.39 289.66 C262.23 290.11 264.07 290.56 265.92 291.00 C267.76 291.44 269.61 291.87 271.46 292.29 C273.31 292.72 275.16 293.13 277.01 293.54 C278.86 293.95 280.71 294.35 282.57 294.75 C284.43 295.15 286.28 295.54 288.14 295.92 C290.00 296.30 291.86 296.68 293.72 297.05 C295.58 297.42 297.45 297.78 299.31 298.14 C301.17 298.49 303.04 298.84 304.91 299.19 C306.77 299.53 308.64 299.87 310.51 300.21 C312.38 300.54 314.25 300.87 316.13 301.19 C318.00 301.51 319.87 301.83 321.75 302.14 C323.62 302.45 325.50 302.76 327.37 303.06 C329.25 303.36 331.13 303.66 333.01 303.95 C334.89 304.24 336.77 304.53 338.65 304.81 C340.53 305.09 342.41 305.37 344.30 305.65 C346.18 305.92 348.06 306.19 349.95 306.46 C351.83 306.72 353.72 306.98 355.61 307.24 C357.49 307.50 359.38 307.75 361.27 308.00 C363.16 308.25 365.05 308.50 366.94 308.74 C368.83 308.99 370.72 309.23 372.61 309.46 C374.50 309.70 376.39 309.93 378.28 310.17 C380.17 310.40 382.07 310.62 383.96 310.85 C385.85 311.07 387.75 311.30 389.64 311.52 C391.54 311.74 393.43 311.96 395.33 312.17 C397.22 312.39 399.12 312.60 401.01 312.81 C402.91 313.02 404.80 313.23 406.70 313.44 C408.60 313.65 410.49 313.86 412.39 314.06 C414.29 314.26 416.18 314.47 418.08 314.67 C419.98 314.87 421.88 315.07 423.77 315.27 C425.67 315.47 427.57 315.67 429.47 315.87 C431.36 316.06 433.26 316.26 435.16 316.46 C437.06 316.65 438.95 316.85 440.85 317.05 C442.75 317.24 444.65 317.44 446.54 317.63 C448.44 317.83 450.34 318.02 452.23 318.21 C454.13 318.41 456.03 318.60 457.92 318.80 C459.82 318.99 461.72 319.19 463.61 319.38 C465.51 319.58 467.41 319.77 469.30 319.96 C471.20 320.16 473.09 320.35 474.99 320.54 C476.89 320.74 478.78 320.93 480.68 321.12 C482.57 321.32 484.47 321.51 486.36 321.70 C488.26 321.90 490.15 322.09 492.05 322.28 C493.94 322.47 495.84 322.67 497.73 322.86 C499.63 323.05 501.52 323.24 503.42 323.43 C505.31 323.62 507.21 323.82 509.10 324.01 C511.00 324.20 512.89 324.39 514.79 324.58 C516.68 324.77 518.57 324.96 520.47 325.15 C522.36 325.34 524.26 325.53 526.15 325.72 C528.05 325.91 529.94 326.10 531.83 326.29 C533.73 326.48 535.62 326.67 537.51 326.86 C539.41 327.05 541.30 327.23 543.20 327.42 C545.09 327.61 546.98 327.80 548.88 327.99 C550.77 328.17 552.66 328.36 554.56 328.55 C556.45 328.73 558.34 328.92 560.24 329.11 C562.13 329.29 564.02 329.48 565.92 329.67 C567.81 329.85 569.70 330.04 571.60 330.22 C573.49 330.41 575.38 330.59 577.28 330.78 C579.17 330.96 581.06 331.15 582.95 331.33 C584.85 331.51 586.74 331.70 588.63 331.88 C590.53 332.06 592.42 332.25 594.31 332.43 C596.21 332.61 598.10 332.79 599.99 332.97 C601.88 333.16 603.78 333.34 605.67 333.52 C607.56 333.70 609.46 333.88 611.35 334.06 C613.24 334.24 615.14 334.42 617.03 334.60 C618.92 334.78 620.81 334.96 622.71 335.14 C624.60 335.31 626.49 335.49 628.39 335.67 C630.28 335.85 632.17 336.02 634.07 336.20 C635.96 336.38 637.85 336.56 639.75 336.73 C641.64 336.91 643.53 337.08 645.43 337.26 C647.32 337.43 649.21 337.61 651.11 337.78 C653.00 337.96 654.89 338.13 656.79 338.30 C658.68 338.48 660.57 338.65 662.47 338.82 C664.36 338.99 666.25 339.17 668.15 339.34 C670.04 339.51 671.93 339.68 673.83 339.85 C675.72 340.02 677.62 340.19 679.51 340.36 C681.40 340.53 683.30 340.70 685.19 340.87 C687.09 341.03 688.98 341.20 690.87 341.37 C692.77 341.54 694.66 341.70 696.56 341.87 C698.45 342.04 700.35 342.20 702.24 342.37 C704.14 342.53 706.03 342.70 707.93 342.86 C709.82 343.03 711.71 343.19 713.61 343.35 C715.50 343.52 717.40 343.68 719.30 343.84 C721.19 344.00 723.09 344.16 724.98 344.32 C726.88 344.48 728.77 344.64 730.67 344.80 C732.56 344.96 734.46 345.12 736.36 345.28 C738.25 345.44 740.15 345.60 742.04 345.75 C743.94 345.91 745.84 346.07 747.73 346.22 C749.63 346.38 751.53 346.54 753.42 346.69 C755.32 346.85 757.22 347.00 759.11 347.15 C761.01 347.31 762.91 347.46 764.80 347.61 C766.70 347.76 768.60 347.91 770.50 348.07 C772.40 348.22 774.29 348.37 776.19 348.52 C778.09 348.67 779.99 348.82 781.89 348.96 C783.78 349.11 785.68 349.26 787.58 349.41 C789.48 349.55 791.38 349.70 793.28 349.84 C795.18 349.99 797.08 350.14 798.98 350.28 C800.87 350.42 802.77 350.57 804.67 350.71 C806.57 350.85 808.47 350.99 810.37 351.14 C812.27 351.28 814.17 351.42 816.08 351.56 C817.98 351.70 819.88 351.84 821.78 351.97 C823.68 352.11 825.58 352.25 827.48 352.39 C829.38 352.52 831.28 352.66 833.19 352.80 C835.09 352.93 836.99 353.07 838.89 353.20 C840.79 353.33 843.65 353.53 844.60 353.60"/>
<path class="ln" stroke="#2fc8ec" d="M51.50 85.50 C51.56 85.84 51.73 86.87 51.85 87.55 C51.96 88.24 52.09 89.03 52.19 89.61 C52.28 90.20 52.37 90.71 52.42 91.05 C52.48 91.39 52.45 91.23 52.52 91.68 C52.60 92.13 52.75 93.06 52.86 93.75 C52.97 94.44 53.12 95.34 53.19 95.82 C53.27 96.30 53.27 96.29 53.32 96.63 C53.38 96.98 53.44 97.34 53.53 97.90 C53.62 98.45 53.75 99.28 53.86 99.98 C53.97 100.67 54.13 101.68 54.19 102.06 C54.25 102.43 54.17 101.89 54.22 102.24 C54.28 102.59 54.42 103.48 54.53 104.14 C54.64 104.80 54.77 105.60 54.87 106.22 C54.97 106.84 55.08 107.51 55.14 107.85 C55.20 108.20 55.14 107.89 55.21 108.31 C55.28 108.73 55.44 109.70 55.56 110.39 C55.68 111.09 55.83 111.96 55.92 112.48 C56.00 112.99 56.03 113.13 56.09 113.47 C56.15 113.82 56.18 114.03 56.28 114.56 C56.37 115.09 56.52 115.95 56.64 116.65 C56.77 117.34 56.95 118.32 57.02 118.73 C57.10 119.13 57.02 118.74 57.09 119.09 C57.15 119.43 57.29 120.17 57.41 120.80 C57.53 121.44 57.68 122.23 57.80 122.88 C57.93 123.53 58.09 124.34 58.16 124.68 C58.22 125.03 58.13 124.56 58.21 124.95 C58.29 125.34 58.49 126.33 58.63 127.02 C58.77 127.71 58.95 128.55 59.06 129.09 C59.18 129.63 59.24 129.91 59.31 130.25 C59.39 130.60 59.40 130.66 59.51 131.15 C59.62 131.64 59.81 132.52 59.97 133.20 C60.13 133.89 60.35 134.82 60.45 135.25 C60.55 135.68 60.49 135.44 60.57 135.79 C60.66 136.13 60.79 136.71 60.94 137.30 C61.09 137.89 61.28 138.67 61.45 139.33 C61.62 140.00 61.87 140.93 61.96 141.27 C62.04 141.61 61.88 141.01 61.98 141.36 C62.07 141.71 62.34 142.71 62.53 143.38 C62.71 144.06 62.94 144.84 63.10 145.40 C63.25 145.95 63.38 146.37 63.48 146.71 C63.58 147.04 63.55 146.95 63.69 147.40 C63.82 147.85 64.09 148.74 64.30 149.40 C64.50 150.06 64.79 150.94 64.93 151.39 C65.07 151.83 65.05 151.74 65.16 152.07 C65.27 152.40 65.40 152.82 65.59 153.36 C65.77 153.90 66.04 154.67 66.27 155.33 C66.50 155.98 66.86 156.94 66.98 157.28 C67.10 157.62 66.89 157.04 67.01 157.37 C67.13 157.69 67.47 158.59 67.71 159.23 C67.96 159.86 68.25 160.60 68.48 161.16 C68.70 161.71 68.93 162.25 69.06 162.57 C69.19 162.89 69.10 162.67 69.27 163.08 C69.44 163.48 69.81 164.35 70.09 164.98 C70.37 165.61 70.73 166.42 70.94 166.87 C71.14 167.32 71.17 167.38 71.32 167.69 C71.46 168.00 71.58 168.26 71.82 168.75 C72.05 169.24 72.42 169.99 72.73 170.61 C73.04 171.23 73.50 172.11 73.68 172.46 C73.85 172.81 73.64 172.39 73.80 172.70 C73.96 173.00 74.34 173.73 74.66 174.29 C74.97 174.86 75.36 175.56 75.67 176.11 C75.98 176.66 76.36 177.30 76.53 177.60 C76.71 177.90 76.51 177.56 76.72 177.91 C76.93 178.26 77.44 179.10 77.80 179.69 C78.17 180.29 78.64 181.01 78.93 181.46 C79.21 181.91 79.33 182.08 79.53 182.37 C79.72 182.66 79.80 182.78 80.09 183.21 C80.38 183.63 80.88 184.36 81.28 184.94 C81.69 185.51 82.26 186.30 82.51 186.65 C82.76 186.99 82.57 186.73 82.78 187.01 C83.00 187.30 83.40 187.84 83.78 188.34 C84.16 188.84 84.66 189.48 85.07 190.01 C85.49 190.54 86.06 191.24 86.28 191.51 C86.50 191.79 86.15 191.36 86.40 191.66 C86.65 191.95 87.30 192.75 87.75 193.29 C88.21 193.83 88.77 194.47 89.14 194.90 C89.51 195.32 89.76 195.60 89.99 195.86 C90.23 196.13 90.22 196.12 90.55 196.48 C90.88 196.85 91.50 197.53 91.98 198.05 C92.47 198.56 93.13 199.25 93.44 199.59 C93.76 199.92 93.64 199.79 93.89 200.05 C94.14 200.30 94.50 200.68 94.93 201.10 C95.35 201.53 95.93 202.10 96.43 202.60 C96.93 203.09 97.70 203.82 97.95 204.06 C98.21 204.31 97.70 203.82 97.95 204.07 C98.21 204.31 98.98 205.03 99.50 205.51 C100.02 205.99 100.62 206.53 101.06 206.93 C101.50 207.33 101.89 207.66 102.15 207.90 C102.41 208.13 102.29 208.02 102.64 208.32 C102.98 208.62 103.70 209.24 104.23 209.69 C104.76 210.14 105.46 210.72 105.83 211.03 C106.21 211.34 106.19 211.32 106.46 211.54 C106.73 211.76 107.02 211.99 107.45 212.34 C107.89 212.69 108.54 213.20 109.08 213.62 C109.63 214.05 110.43 214.66 110.72 214.88 C111.02 215.11 110.59 214.78 110.86 214.99 C111.14 215.20 111.85 215.73 112.38 216.12 C112.91 216.52 113.54 216.98 114.04 217.34 C114.53 217.70 115.07 218.08 115.35 218.28 C115.62 218.49 115.37 218.31 115.71 218.55 C116.06 218.79 116.83 219.34 117.40 219.74 C117.96 220.13 118.67 220.63 119.09 220.92 C119.51 221.21 119.62 221.28 119.90 221.48 C120.19 221.67 120.36 221.79 120.80 222.09 C121.23 222.39 121.94 222.87 122.51 223.26 C123.08 223.64 123.90 224.19 124.24 224.42 C124.57 224.65 124.24 224.42 124.53 224.62 C124.82 224.81 125.44 225.23 125.97 225.58 C126.50 225.94 127.17 226.38 127.71 226.75 C128.26 227.11 128.94 227.56 129.23 227.75 C129.52 227.95 129.13 227.69 129.47 227.91 C129.80 228.13 130.64 228.68 131.23 229.07 C131.82 229.45 132.54 229.92 133.00 230.22 C133.46 230.52 133.70 230.68 134.00 230.87 C134.29 231.06 134.35 231.10 134.78 231.37 C135.20 231.65 135.97 232.14 136.56 232.52 C137.16 232.90 137.98 233.42 138.36 233.65 C138.74 233.89 138.53 233.76 138.83 233.95 C139.13 234.13 139.64 234.46 140.16 234.78 C140.69 235.11 141.39 235.54 141.98 235.90 C142.57 236.26 143.41 236.77 143.71 236.96 C144.02 237.14 143.48 236.82 143.80 237.01 C144.12 237.20 145.01 237.74 145.62 238.11 C146.23 238.47 146.95 238.89 147.46 239.19 C147.96 239.49 148.35 239.71 148.66 239.89 C148.96 240.07 148.89 240.02 149.30 240.26 C149.72 240.50 150.53 240.97 151.15 241.32 C151.77 241.67 152.59 242.13 153.01 242.36 C153.42 242.60 153.34 242.55 153.65 242.72 C153.96 242.89 154.35 243.11 154.87 243.39 C155.38 243.68 156.11 244.08 156.74 244.41 C157.36 244.75 158.29 245.24 158.61 245.42 C158.94 245.59 158.38 245.29 158.69 245.46 C159.00 245.62 159.88 246.09 160.50 246.41 C161.11 246.73 161.84 247.11 162.38 247.39 C162.93 247.67 163.46 247.94 163.78 248.10 C164.09 248.26 163.88 248.15 164.28 248.35 C164.68 248.55 165.54 248.99 166.18 249.30 C166.81 249.62 167.63 250.02 168.08 250.24 C168.54 250.47 168.59 250.49 168.91 250.64 C169.22 250.80 169.49 250.93 169.99 251.17 C170.49 251.41 171.27 251.78 171.91 252.08 C172.55 252.38 173.47 252.80 173.83 252.97 C174.19 253.14 173.75 252.94 174.07 253.09 C174.39 253.23 175.15 253.58 175.75 253.86 C176.35 254.13 177.09 254.46 177.68 254.72 C178.27 254.99 178.95 255.28 179.27 255.43 C179.59 255.57 179.23 255.41 179.61 255.58 C179.99 255.74 180.90 256.14 181.55 256.42 C182.20 256.69 183.00 257.03 183.49 257.24 C183.98 257.45 184.18 257.53 184.50 257.66 C184.83 257.80 184.96 257.86 185.44 258.05 C185.92 258.25 186.74 258.59 187.39 258.85 C188.04 259.11 188.94 259.47 189.34 259.63 C189.74 259.79 189.43 259.67 189.76 259.80 C190.08 259.93 190.71 260.17 191.30 260.40 C191.88 260.62 192.63 260.91 193.25 261.15 C193.88 261.39 194.71 261.70 195.04 261.82 C195.37 261.95 194.86 261.76 195.22 261.89 C195.57 262.02 196.53 262.37 197.18 262.61 C197.84 262.85 198.62 263.13 199.15 263.32 C199.67 263.51 200.01 263.63 200.34 263.74 C200.67 263.86 200.23 263.71 201.12 264.01 C202.00 264.31 204.01 265.01 205.66 265.55 C207.30 266.10 209.21 266.71 210.99 267.28 C212.77 267.84 214.56 268.39 216.34 268.94 C218.13 269.48 219.92 270.01 221.71 270.55 C223.50 271.08 225.29 271.61 227.09 272.14 C228.88 272.67 230.68 273.20 232.48 273.73 C234.28 274.26 236.08 274.80 237.89 275.33 C239.69 275.85 241.50 276.38 243.31 276.90 C245.12 277.42 246.93 277.93 248.74 278.43 C250.56 278.93 252.37 279.43 254.19 279.90 C256.01 280.38 257.83 280.84 259.65 281.28 C261.47 281.73 263.30 282.15 265.12 282.57 C266.95 282.98 268.77 283.38 270.60 283.77 C272.43 284.16 274.27 284.54 276.10 284.91 C277.93 285.29 279.77 285.66 281.60 286.03 C283.44 286.40 285.28 286.76 287.12 287.12 C288.96 287.48 290.80 287.83 292.65 288.18 C294.49 288.54 296.33 288.88 298.18 289.23 C300.03 289.57 301.88 289.91 303.72 290.25 C305.57 290.58 307.43 290.91 309.28 291.24 C311.13 291.57 312.98 291.90 314.84 292.22 C316.69 292.54 318.55 292.86 320.41 293.17 C322.27 293.49 324.13 293.80 325.99 294.11 C327.85 294.42 329.71 294.72 331.57 295.03 C333.43 295.33 335.30 295.63 337.16 295.93 C339.03 296.22 340.89 296.52 342.76 296.81 C344.63 297.10 346.49 297.39 348.36 297.67 C350.23 297.96 352.10 298.24 353.97 298.52 C355.84 298.80 357.71 299.08 359.59 299.36 C361.46 299.63 363.33 299.90 365.20 300.18 C367.08 300.45 368.95 300.72 370.83 300.98 C372.70 301.25 374.58 301.51 376.46 301.78 C378.33 302.04 380.21 302.30 382.09 302.56 C383.96 302.82 385.84 303.08 387.72 303.33 C389.60 303.59 391.48 303.84 393.36 304.09 C395.24 304.34 397.12 304.59 399.00 304.84 C400.88 305.09 402.76 305.34 404.64 305.59 C406.52 305.83 408.40 306.08 410.28 306.32 C412.16 306.57 414.04 306.81 415.92 307.05 C417.81 307.29 419.69 307.53 421.57 307.77 C423.45 308.01 425.33 308.25 427.21 308.49 C429.10 308.73 430.98 308.97 432.86 309.20 C434.74 309.44 436.62 309.67 438.50 309.91 C440.39 310.15 442.27 310.38 444.15 310.62 C446.03 310.85 447.91 311.08 449.79 311.32 C451.67 311.55 453.55 311.79 455.43 312.02 C457.31 312.25 459.19 312.49 461.07 312.72 C462.95 312.95 464.83 313.18 466.71 313.41 C468.59 313.64 470.47 313.88 472.35 314.11 C474.23 314.34 476.11 314.57 477.98 314.79 C479.86 315.02 481.74 315.25 483.62 315.48 C485.50 315.71 487.38 315.94 489.25 316.16 C491.13 316.39 493.01 316.61 494.89 316.84 C496.76 317.06 498.64 317.29 500.52 317.51 C502.40 317.73 504.27 317.96 506.15 318.18 C508.03 318.40 509.90 318.62 511.78 318.84 C513.66 319.06 515.53 319.28 517.41 319.50 C519.29 319.71 521.16 319.93 523.04 320.15 C524.92 320.36 526.79 320.58 528.67 320.79 C530.55 321.00 532.42 321.22 534.30 321.43 C536.17 321.64 538.05 321.85 539.93 322.06 C541.80 322.27 543.68 322.47 545.55 322.68 C547.43 322.89 549.30 323.09 551.18 323.30 C553.05 323.50 554.93 323.70 556.81 323.90 C558.68 324.10 560.56 324.30 562.43 324.50 C564.31 324.70 566.18 324.90 568.06 325.09 C569.93 325.29 571.81 325.48 573.68 325.68 C575.56 325.87 577.43 326.06 579.31 326.25 C581.18 326.44 583.06 326.62 584.93 326.81 C586.81 327.00 588.68 327.18 590.56 327.36 C592.43 327.55 594.31 327.73 596.18 327.91 C598.06 328.09 599.93 328.26 601.81 328.44 C603.69 328.62 605.56 328.79 607.44 328.96 C609.31 329.13 611.19 329.30 613.06 329.47 C614.94 329.64 616.81 329.81 618.69 329.97 C620.56 330.14 622.44 330.30 624.31 330.46 C626.19 330.62 628.07 330.78 629.94 330.93 C631.82 331.09 633.69 331.25 635.57 331.40 C637.44 331.55 639.32 331.70 641.20 331.85 C643.07 332.00 644.95 332.15 646.82 332.30 C648.70 332.44 650.58 332.59 652.45 332.73 C654.33 332.88 656.21 333.02 658.08 333.16 C659.96 333.30 661.84 333.44 663.71 333.57 C665.59 333.71 667.47 333.85 669.34 333.98 C671.22 334.12 673.10 334.25 674.98 334.38 C676.85 334.51 678.73 334.65 680.61 334.78 C682.49 334.91 684.37 335.03 686.24 335.16 C688.12 335.29 690.00 335.42 691.88 335.54 C693.76 335.67 695.64 335.79 697.51 335.91 C699.39 336.04 701.27 336.16 703.15 336.28 C705.03 336.40 706.91 336.52 708.79 336.64 C710.67 336.76 712.55 336.88 714.43 337.00 C716.31 337.12 718.19 337.24 720.07 337.36 C721.95 337.47 723.83 337.59 725.71 337.71 C727.59 337.82 729.47 337.94 731.35 338.05 C733.24 338.17 735.12 338.28 737.00 338.40 C738.88 338.51 740.76 338.63 742.65 338.74 C744.53 338.85 746.41 338.97 748.29 339.08 C750.18 339.19 752.06 339.30 753.94 339.42 C755.83 339.53 757.71 339.64 759.59 339.75 C761.48 339.87 763.36 339.98 765.25 340.09 C767.13 340.20 769.02 340.31 770.90 340.43 C772.79 340.54 774.67 340.65 776.56 340.76 C778.44 340.88 780.33 340.99 782.22 341.10 C784.10 341.21 785.99 341.33 787.88 341.44 C789.76 341.55 791.65 341.67 793.54 341.78 C795.43 341.89 797.32 342.01 799.20 342.12 C801.09 342.24 802.98 342.35 804.87 342.47 C806.76 342.59 808.65 342.70 810.54 342.82 C812.43 342.93 814.32 343.05 816.21 343.17 C818.10 343.29 819.99 343.41 821.88 343.53 C823.78 343.65 825.67 343.77 827.56 343.89 C829.45 344.01 831.34 344.13 833.24 344.25 C835.13 344.38 837.02 344.50 838.92 344.62 C840.81 344.75 843.65 344.94 844.60 345.00"/>
<path class="ln" stroke="#d2506a" d="M51.50 85.50 C51.58 85.84 51.81 86.87 51.96 87.55 C52.12 88.24 52.29 89.03 52.42 89.61 C52.55 90.18 52.65 90.64 52.72 90.98 C52.80 91.32 52.77 91.20 52.87 91.66 C52.97 92.12 53.17 93.03 53.32 93.71 C53.46 94.40 53.66 95.31 53.76 95.77 C53.86 96.23 53.83 96.12 53.91 96.47 C53.98 96.81 54.08 97.26 54.20 97.83 C54.32 98.39 54.49 99.20 54.64 99.88 C54.78 100.57 55.00 101.59 55.08 101.94 C55.15 102.28 55.01 101.61 55.08 101.95 C55.16 102.30 55.37 103.31 55.52 103.99 C55.67 104.67 55.84 105.47 55.97 106.04 C56.09 106.62 56.19 107.09 56.27 107.43 C56.34 107.78 56.31 107.64 56.41 108.09 C56.51 108.55 56.72 109.46 56.87 110.14 C57.02 110.83 57.23 111.73 57.33 112.19 C57.44 112.65 57.42 112.56 57.49 112.90 C57.57 113.24 57.67 113.67 57.80 114.24 C57.93 114.80 58.12 115.60 58.28 116.28 C58.45 116.96 58.69 117.97 58.77 118.32 C58.86 118.66 58.70 118.01 58.78 118.35 C58.87 118.69 59.11 119.68 59.28 120.35 C59.45 121.02 59.65 121.81 59.80 122.38 C59.94 122.95 60.07 123.44 60.16 123.78 C60.25 124.12 60.21 123.97 60.33 124.41 C60.45 124.85 60.69 125.76 60.88 126.43 C61.06 127.11 61.31 128.00 61.44 128.45 C61.57 128.91 61.55 128.84 61.65 129.17 C61.75 129.51 61.86 129.92 62.03 130.47 C62.19 131.02 62.43 131.81 62.63 132.47 C62.84 133.14 63.15 134.13 63.26 134.48 C63.37 134.82 63.17 134.20 63.28 134.53 C63.38 134.86 63.69 135.82 63.91 136.47 C64.12 137.13 64.38 137.90 64.58 138.46 C64.77 139.03 64.94 139.51 65.06 139.84 C65.17 140.18 65.11 140.02 65.27 140.45 C65.42 140.88 65.74 141.77 65.99 142.42 C66.23 143.08 66.56 143.94 66.73 144.39 C66.90 144.84 66.88 144.78 67.00 145.11 C67.13 145.44 67.28 145.82 67.49 146.35 C67.71 146.89 68.02 147.66 68.28 148.31 C68.55 148.96 68.96 149.92 69.10 150.25 C69.24 150.59 68.99 150.00 69.13 150.32 C69.27 150.64 69.66 151.56 69.94 152.19 C70.22 152.82 70.55 153.57 70.80 154.12 C71.04 154.67 71.27 155.15 71.42 155.47 C71.56 155.79 71.48 155.62 71.68 156.04 C71.87 156.45 72.28 157.31 72.58 157.95 C72.88 158.58 73.29 159.41 73.50 159.85 C73.71 160.28 73.70 160.24 73.85 160.56 C74.01 160.87 74.19 161.23 74.44 161.74 C74.70 162.25 75.08 163.00 75.41 163.62 C75.73 164.25 76.22 165.16 76.39 165.49 C76.56 165.81 76.27 165.26 76.43 165.57 C76.60 165.88 77.06 166.74 77.39 167.34 C77.73 167.94 78.13 168.66 78.42 169.18 C78.72 169.70 79.00 170.18 79.17 170.48 C79.35 170.79 79.25 170.61 79.48 171.00 C79.71 171.39 80.20 172.21 80.56 172.80 C80.93 173.40 81.41 174.18 81.67 174.59 C81.93 175.00 81.91 174.97 82.10 175.26 C82.29 175.56 82.50 175.88 82.81 176.35 C83.12 176.82 83.58 177.51 83.98 178.08 C84.37 178.66 84.96 179.49 85.17 179.79 C85.38 180.10 85.03 179.60 85.24 179.88 C85.44 180.17 86.00 180.94 86.41 181.48 C86.81 182.02 87.30 182.67 87.67 183.14 C88.04 183.61 88.39 184.05 88.61 184.32 C88.82 184.59 88.69 184.43 88.97 184.77 C89.25 185.11 89.86 185.84 90.31 186.36 C90.76 186.89 91.36 187.57 91.68 187.93 C92.00 188.29 91.99 188.28 92.23 188.53 C92.46 188.79 92.70 189.06 93.09 189.46 C93.47 189.87 94.04 190.47 94.53 190.97 C95.02 191.46 95.74 192.18 96.00 192.44 C96.26 192.70 95.85 192.29 96.10 192.53 C96.35 192.77 97.02 193.43 97.51 193.89 C98.00 194.36 98.59 194.91 99.04 195.32 C99.48 195.73 99.91 196.11 100.17 196.34 C100.43 196.58 100.26 196.43 100.59 196.72 C100.92 197.01 101.64 197.64 102.16 198.10 C102.69 198.56 103.39 199.14 103.76 199.46 C104.13 199.78 104.14 199.78 104.40 200.00 C104.67 200.22 104.94 200.45 105.37 200.80 C105.81 201.16 106.46 201.69 107.00 202.13 C107.55 202.57 108.35 203.21 108.65 203.44 C108.94 203.68 108.49 203.32 108.76 203.53 C109.04 203.75 109.77 204.33 110.30 204.74 C110.83 205.16 111.48 205.66 111.96 206.03 C112.44 206.40 112.92 206.76 113.20 206.98 C113.47 207.19 113.28 207.04 113.63 207.31 C113.98 207.58 114.75 208.16 115.30 208.58 C115.86 209.00 116.59 209.55 116.98 209.84 C117.38 210.14 117.39 210.15 117.67 210.36 C117.95 210.57 118.22 210.77 118.66 211.10 C119.11 211.43 119.79 211.93 120.35 212.35 C120.91 212.76 121.73 213.37 122.04 213.59 C122.34 213.81 121.89 213.48 122.17 213.69 C122.45 213.89 123.19 214.43 123.73 214.82 C124.27 215.21 124.93 215.69 125.43 216.04 C125.93 216.40 126.42 216.75 126.71 216.95 C126.99 217.15 126.78 217.00 127.14 217.26 C127.49 217.51 128.28 218.06 128.85 218.46 C129.42 218.86 130.16 219.37 130.57 219.65 C130.98 219.93 131.00 219.95 131.29 220.14 C131.58 220.34 131.84 220.52 132.30 220.83 C132.75 221.14 133.45 221.61 134.03 222.00 C134.61 222.38 135.46 222.94 135.78 223.15 C136.09 223.36 135.64 223.06 135.93 223.25 C136.22 223.45 136.97 223.94 137.53 224.30 C138.09 224.66 138.77 225.10 139.29 225.43 C139.81 225.76 140.34 226.09 140.63 226.28 C140.93 226.46 140.70 226.32 141.06 226.54 C141.43 226.77 142.25 227.28 142.85 227.65 C143.44 228.01 144.21 228.48 144.64 228.74 C145.07 229.00 145.11 229.02 145.41 229.20 C145.71 229.38 145.97 229.53 146.44 229.81 C146.92 230.09 147.65 230.53 148.25 230.88 C148.86 231.23 149.74 231.74 150.07 231.93 C150.41 232.12 149.94 231.86 150.25 232.03 C150.55 232.20 151.32 232.64 151.90 232.97 C152.48 233.29 153.20 233.69 153.74 233.99 C154.28 234.29 154.84 234.60 155.15 234.77 C155.46 234.94 155.20 234.80 155.58 235.01 C155.96 235.21 156.82 235.67 157.44 236.01 C158.06 236.34 158.85 236.76 159.30 237.00 C159.74 237.23 159.80 237.26 160.11 237.42 C160.42 237.59 160.68 237.72 161.16 237.97 C161.65 238.23 162.41 238.62 163.04 238.94 C163.66 239.26 164.57 239.72 164.92 239.90 C165.27 240.07 164.80 239.84 165.12 240.00 C165.43 240.15 166.21 240.54 166.81 240.84 C167.40 241.14 168.14 241.50 168.70 241.77 C169.26 242.05 169.85 242.34 170.17 242.49 C170.49 242.64 170.21 242.51 170.60 242.70 C170.99 242.88 171.87 243.31 172.50 243.61 C173.14 243.91 173.95 244.29 174.41 244.51 C174.87 244.73 174.94 244.76 175.26 244.91 C175.58 245.06 175.83 245.17 176.33 245.40 C176.82 245.63 177.61 245.99 178.25 246.29 C178.89 246.58 179.81 247.00 180.17 247.16 C180.53 247.32 180.07 247.11 180.39 247.26 C180.71 247.40 181.49 247.75 182.10 248.02 C182.70 248.29 183.45 248.62 184.03 248.88 C184.60 249.13 185.22 249.40 185.55 249.54 C185.87 249.68 185.57 249.55 185.96 249.72 C186.36 249.89 187.26 250.28 187.90 250.56 C188.55 250.83 189.37 251.19 189.84 251.39 C190.31 251.59 190.40 251.62 190.72 251.76 C191.05 251.89 191.29 252.00 191.79 252.20 C192.29 252.41 193.08 252.75 193.73 253.02 C194.38 253.28 195.32 253.67 195.68 253.82 C196.05 253.97 195.60 253.78 195.92 253.92 C196.25 254.05 197.02 254.37 197.63 254.61 C198.24 254.86 199.00 255.17 199.59 255.40 C200.17 255.63 200.81 255.89 201.14 256.02 C201.46 256.15 201.15 256.02 201.54 256.18 C201.94 256.33 202.85 256.69 203.50 256.95 C204.15 257.20 204.98 257.52 205.46 257.71 C205.94 257.89 206.04 257.93 206.37 258.06 C206.70 258.18 206.92 258.27 207.43 258.46 C207.93 258.65 208.69 258.94 209.39 259.21 C210.09 259.47 210.37 259.58 211.62 260.04 C212.87 260.50 215.13 261.33 216.89 261.96 C218.64 262.60 220.40 263.22 222.17 263.83 C223.93 264.44 225.70 265.05 227.47 265.64 C229.24 266.23 231.01 266.82 232.78 267.39 C234.55 267.97 236.33 268.53 238.11 269.09 C239.89 269.65 241.67 270.19 243.45 270.73 C245.24 271.27 247.02 271.80 248.81 272.32 C250.60 272.83 252.39 273.34 254.18 273.85 C255.98 274.35 257.77 274.84 259.57 275.32 C261.36 275.80 263.16 276.28 264.96 276.74 C266.77 277.21 268.57 277.66 270.38 278.11 C272.18 278.55 273.99 278.99 275.80 279.42 C277.61 279.85 279.42 280.27 281.23 280.68 C283.05 281.09 284.86 281.49 286.68 281.89 C288.49 282.28 290.31 282.67 292.13 283.05 C293.95 283.43 295.78 283.80 297.60 284.17 C299.42 284.53 301.25 284.89 303.08 285.24 C304.90 285.60 306.73 285.94 308.56 286.28 C310.39 286.62 312.23 286.95 314.06 287.28 C315.89 287.61 317.73 287.93 319.56 288.25 C321.40 288.57 323.24 288.88 325.08 289.19 C326.92 289.49 328.76 289.80 330.60 290.10 C332.44 290.39 334.28 290.69 336.13 290.98 C337.97 291.27 339.82 291.56 341.66 291.84 C343.51 292.13 345.36 292.41 347.20 292.69 C349.05 292.97 350.90 293.24 352.75 293.51 C354.60 293.79 356.46 294.06 358.31 294.32 C360.16 294.59 362.01 294.85 363.87 295.11 C365.72 295.37 367.58 295.63 369.43 295.89 C371.29 296.14 373.15 296.39 375.00 296.64 C376.86 296.89 378.72 297.14 380.58 297.39 C382.44 297.63 384.30 297.88 386.16 298.12 C388.02 298.36 389.88 298.59 391.74 298.83 C393.60 299.07 395.46 299.30 397.32 299.53 C399.18 299.76 401.05 299.99 402.91 300.22 C404.77 300.45 406.64 300.67 408.50 300.90 C410.36 301.12 412.23 301.34 414.09 301.56 C415.95 301.78 417.82 302.00 419.68 302.22 C421.55 302.44 423.41 302.65 425.28 302.86 C427.14 303.08 429.01 303.29 430.87 303.50 C432.74 303.71 434.60 303.92 436.47 304.13 C438.33 304.34 440.20 304.55 442.06 304.75 C443.92 304.96 445.79 305.16 447.65 305.37 C449.52 305.57 451.38 305.77 453.25 305.97 C455.11 306.18 456.97 306.38 458.84 306.58 C460.70 306.78 462.56 306.97 464.43 307.17 C466.29 307.37 468.15 307.57 470.02 307.76 C471.88 307.96 473.74 308.15 475.61 308.34 C477.47 308.54 479.33 308.73 481.19 308.92 C483.06 309.11 484.92 309.30 486.78 309.49 C488.64 309.68 490.51 309.87 492.37 310.06 C494.23 310.25 496.09 310.43 497.95 310.62 C499.82 310.80 501.68 310.99 503.54 311.17 C505.40 311.35 507.26 311.54 509.12 311.72 C510.99 311.90 512.85 312.08 514.71 312.26 C516.57 312.44 518.43 312.62 520.29 312.80 C522.15 312.97 524.01 313.15 525.88 313.33 C527.74 313.50 529.60 313.68 531.46 313.85 C533.32 314.02 535.18 314.20 537.04 314.37 C538.90 314.54 540.76 314.71 542.62 314.88 C544.48 315.05 546.34 315.22 548.20 315.39 C550.06 315.56 551.93 315.73 553.79 315.89 C555.65 316.06 557.51 316.22 559.37 316.39 C561.23 316.55 563.09 316.72 564.95 316.88 C566.81 317.04 568.67 317.20 570.53 317.37 C572.39 317.53 574.25 317.69 576.11 317.85 C577.97 318.01 579.83 318.16 581.69 318.32 C583.55 318.48 585.41 318.64 587.27 318.79 C589.13 318.95 590.99 319.10 592.85 319.26 C594.71 319.41 596.57 319.56 598.43 319.71 C600.29 319.87 602.15 320.02 604.01 320.17 C605.87 320.32 607.73 320.47 609.59 320.62 C611.45 320.77 613.31 320.91 615.17 321.06 C617.03 321.21 618.89 321.35 620.75 321.50 C622.61 321.65 624.47 321.79 626.34 321.93 C628.20 322.08 630.06 322.22 631.92 322.36 C633.78 322.51 635.64 322.65 637.50 322.79 C639.36 322.93 641.22 323.07 643.08 323.21 C644.94 323.35 646.80 323.48 648.66 323.62 C650.52 323.76 652.39 323.89 654.25 324.03 C656.11 324.17 657.97 324.30 659.83 324.43 C661.69 324.57 663.55 324.70 665.41 324.83 C667.27 324.97 669.14 325.10 671.00 325.23 C672.86 325.36 674.72 325.49 676.58 325.62 C678.44 325.75 680.31 325.88 682.17 326.01 C684.03 326.13 685.89 326.26 687.76 326.39 C689.62 326.52 691.48 326.64 693.34 326.77 C695.20 326.89 697.07 327.01 698.93 327.14 C700.79 327.26 702.66 327.38 704.52 327.51 C706.38 327.63 708.24 327.75 710.11 327.87 C711.97 327.99 713.83 328.11 715.70 328.23 C717.56 328.35 719.43 328.47 721.29 328.59 C723.15 328.70 725.02 328.82 726.88 328.94 C728.75 329.05 730.61 329.17 732.47 329.28 C734.34 329.40 736.20 329.51 738.07 329.63 C739.93 329.74 741.80 329.85 743.66 329.96 C745.53 330.08 747.39 330.19 749.26 330.30 C751.13 330.41 752.99 330.52 754.86 330.63 C756.72 330.74 758.59 330.85 760.46 330.96 C762.32 331.06 764.19 331.17 766.06 331.28 C767.92 331.38 769.79 331.49 771.66 331.60 C773.52 331.70 775.39 331.81 777.26 331.91 C779.13 332.02 780.99 332.12 782.86 332.22 C784.73 332.32 786.60 332.43 788.47 332.53 C790.34 332.63 792.20 332.73 794.07 332.83 C795.94 332.93 797.81 333.03 799.68 333.13 C801.55 333.23 803.42 333.33 805.29 333.43 C807.16 333.53 809.03 333.62 810.90 333.72 C812.77 333.82 814.64 333.91 816.51 334.01 C818.38 334.10 820.26 334.20 822.13 334.29 C824.00 334.39 825.87 334.48 827.74 334.58 C829.62 334.67 831.49 334.76 833.36 334.85 C835.23 334.95 837.11 335.04 838.98 335.13 C840.85 335.22 843.66 335.35 844.60 335.40"/>
<path class="ln" stroke="#3b3f9e" d="M51.50 85.50 C51.59 85.83 51.88 86.84 52.07 87.51 C52.25 88.18 52.47 88.99 52.61 89.53 C52.76 90.08 52.85 90.44 52.94 90.78 C53.03 91.12 53.02 91.09 53.14 91.56 C53.25 92.03 53.48 92.92 53.64 93.60 C53.81 94.28 54.03 95.22 54.14 95.64 C54.24 96.06 54.17 95.78 54.25 96.12 C54.33 96.46 54.48 97.09 54.62 97.69 C54.76 98.30 54.94 99.11 55.09 99.75 C55.24 100.38 55.41 101.15 55.49 101.50 C55.57 101.84 55.47 101.41 55.56 101.80 C55.65 102.20 55.87 103.18 56.02 103.86 C56.18 104.55 56.38 105.42 56.49 105.92 C56.61 106.42 56.63 106.54 56.71 106.88 C56.79 107.23 56.84 107.45 56.97 107.98 C57.09 108.50 57.28 109.35 57.45 110.03 C57.61 110.72 57.85 111.71 57.94 112.08 C58.03 112.46 57.89 111.92 57.98 112.26 C58.06 112.60 58.28 113.48 58.44 114.13 C58.61 114.78 58.81 115.59 58.96 116.17 C59.11 116.75 59.25 117.26 59.34 117.60 C59.43 117.94 59.38 117.76 59.51 118.20 C59.63 118.64 59.88 119.55 60.07 120.23 C60.26 120.90 60.53 121.80 60.66 122.24 C60.79 122.68 60.76 122.54 60.86 122.88 C60.96 123.21 61.11 123.68 61.29 124.24 C61.47 124.80 61.72 125.59 61.94 126.23 C62.16 126.87 62.47 127.75 62.59 128.08 C62.70 128.41 62.50 127.86 62.63 128.20 C62.76 128.55 63.11 129.51 63.36 130.16 C63.61 130.81 63.93 131.60 64.13 132.10 C64.33 132.60 64.43 132.85 64.57 133.17 C64.70 133.49 64.73 133.57 64.94 134.03 C65.14 134.49 65.50 135.30 65.79 135.93 C66.08 136.56 66.51 137.45 66.69 137.82 C66.86 138.18 66.69 137.82 66.84 138.13 C67.00 138.44 67.33 139.11 67.63 139.68 C67.93 140.24 68.32 140.97 68.62 141.52 C68.92 142.06 69.26 142.65 69.43 142.95 C69.61 143.25 69.44 142.97 69.66 143.33 C69.88 143.70 70.37 144.53 70.74 145.13 C71.11 145.72 71.60 146.49 71.86 146.90 C72.13 147.31 72.13 147.32 72.33 147.61 C72.52 147.90 72.71 148.19 73.03 148.65 C73.34 149.11 73.82 149.80 74.23 150.38 C74.63 150.95 75.25 151.79 75.46 152.08 C75.68 152.37 75.28 151.84 75.49 152.12 C75.70 152.40 76.31 153.22 76.74 153.77 C77.16 154.32 77.68 154.98 78.04 155.43 C78.40 155.88 78.67 156.21 78.89 156.48 C79.12 156.76 79.07 156.70 79.38 157.07 C79.69 157.44 80.29 158.16 80.75 158.69 C81.21 159.23 81.85 159.96 82.14 160.29 C82.44 160.63 82.27 160.44 82.50 160.70 C82.74 160.96 83.15 161.42 83.57 161.87 C83.98 162.33 84.56 162.95 85.01 163.43 C85.47 163.92 86.05 164.52 86.29 164.78 C86.54 165.03 86.20 164.69 86.48 164.97 C86.76 165.26 87.47 165.99 87.97 166.49 C88.47 166.99 89.11 167.62 89.48 167.99 C89.86 168.36 89.97 168.47 90.23 168.71 C90.48 168.96 90.62 169.10 91.01 169.47 C91.39 169.83 92.03 170.44 92.55 170.92 C93.07 171.41 93.82 172.10 94.11 172.36 C94.39 172.63 94.01 172.28 94.27 172.51 C94.53 172.75 95.18 173.34 95.68 173.78 C96.17 174.22 96.80 174.78 97.26 175.18 C97.71 175.58 98.14 175.95 98.40 176.18 C98.67 176.41 98.51 176.27 98.85 176.56 C99.19 176.85 99.91 177.47 100.45 177.92 C100.98 178.37 101.70 178.97 102.06 179.27 C102.42 179.57 102.34 179.50 102.61 179.72 C102.88 179.94 103.23 180.23 103.68 180.59 C104.13 180.96 104.78 181.48 105.32 181.90 C105.85 182.32 106.62 182.92 106.89 183.14 C107.16 183.35 106.67 182.97 106.96 183.19 C107.25 183.41 108.06 184.04 108.61 184.46 C109.17 184.89 109.84 185.39 110.28 185.72 C110.71 186.05 110.96 186.23 111.24 186.44 C111.52 186.64 111.55 186.67 111.95 186.96 C112.35 187.25 113.07 187.78 113.63 188.19 C114.20 188.59 114.99 189.16 115.33 189.40 C115.66 189.64 115.37 189.43 115.65 189.63 C115.93 189.82 116.51 190.23 117.03 190.59 C117.54 190.95 118.22 191.41 118.74 191.77 C119.25 192.12 119.84 192.52 120.13 192.71 C120.41 192.90 120.11 192.70 120.46 192.93 C120.80 193.16 121.61 193.70 122.18 194.08 C122.76 194.46 123.51 194.95 123.92 195.22 C124.33 195.48 124.37 195.51 124.66 195.69 C124.95 195.88 125.21 196.05 125.67 196.34 C126.13 196.63 126.84 197.08 127.42 197.44 C128.01 197.81 128.88 198.35 129.18 198.54 C129.49 198.73 128.96 198.40 129.26 198.59 C129.55 198.77 130.37 199.27 130.95 199.62 C131.53 199.97 132.24 200.40 132.73 200.69 C133.22 200.99 133.61 201.21 133.91 201.39 C134.21 201.56 134.12 201.51 134.52 201.75 C134.92 201.98 135.71 202.45 136.31 202.79 C136.91 203.14 137.73 203.61 138.11 203.83 C138.49 204.05 138.31 203.94 138.61 204.11 C138.91 204.28 139.40 204.56 139.92 204.85 C140.44 205.14 141.16 205.54 141.74 205.86 C142.31 206.18 143.06 206.59 143.36 206.76 C143.67 206.92 143.22 206.68 143.56 206.86 C143.90 207.04 144.78 207.52 145.39 207.85 C146.00 208.18 146.76 208.59 147.22 208.83 C147.69 209.08 147.86 209.17 148.16 209.33 C148.47 209.49 148.61 209.57 149.07 209.80 C149.52 210.04 150.30 210.45 150.92 210.76 C151.53 211.08 152.42 211.54 152.77 211.72 C153.12 211.89 152.70 211.68 153.01 211.84 C153.32 211.99 154.05 212.36 154.63 212.66 C155.21 212.95 155.96 213.32 156.50 213.59 C157.04 213.86 157.58 214.12 157.89 214.27 C158.20 214.43 157.98 214.32 158.37 214.51 C158.77 214.70 159.62 215.11 160.25 215.42 C160.88 215.72 161.71 216.11 162.14 216.32 C162.56 216.52 162.50 216.49 162.82 216.64 C163.13 216.79 163.51 216.97 164.03 217.21 C164.54 217.45 165.29 217.80 165.92 218.09 C166.55 218.37 167.46 218.79 167.78 218.94 C168.10 219.08 167.50 218.81 167.82 218.96 C168.15 219.10 169.09 219.53 169.73 219.81 C170.36 220.10 171.13 220.44 171.64 220.66 C172.14 220.89 172.46 221.02 172.77 221.16 C173.09 221.30 173.10 221.31 173.55 221.50 C174.00 221.70 174.83 222.06 175.47 222.33 C176.11 222.61 177.00 222.99 177.39 223.16 C177.78 223.32 177.48 223.19 177.80 223.33 C178.12 223.47 178.74 223.73 179.32 223.97 C179.89 224.21 180.66 224.53 181.25 224.78 C181.84 225.03 182.53 225.31 182.85 225.45 C183.18 225.58 182.81 225.43 183.19 225.58 C183.56 225.74 184.48 226.12 185.12 226.38 C185.77 226.65 186.60 226.99 187.07 227.18 C187.53 227.37 187.61 227.40 187.93 227.53 C188.26 227.66 188.51 227.76 189.01 227.97 C189.52 228.17 190.31 228.49 190.96 228.76 C191.61 229.02 192.57 229.40 192.91 229.54 C193.26 229.68 192.71 229.46 193.04 229.59 C193.36 229.72 194.24 230.07 194.87 230.33 C195.50 230.58 196.28 230.89 196.83 231.11 C197.38 231.33 197.83 231.52 198.16 231.65 C198.49 231.78 198.36 231.73 198.79 231.90 C199.22 232.07 200.10 232.42 200.75 232.69 C201.41 232.95 202.29 233.30 202.72 233.47 C203.14 233.65 202.97 233.58 203.30 233.71 C203.63 233.84 204.13 234.04 204.68 234.26 C205.24 234.49 206.03 234.80 206.65 235.05 C207.28 235.30 208.13 235.64 208.46 235.77 C208.79 235.90 208.27 235.70 208.63 235.84 C208.98 235.98 209.94 236.36 210.60 236.63 C211.26 236.89 212.07 237.21 212.58 237.41 C213.08 237.61 213.30 237.70 213.63 237.83 C213.96 237.96 214.07 238.00 214.56 238.19 C215.04 238.38 215.88 238.71 216.54 238.97 C217.20 239.23 218.15 239.60 218.53 239.74 C218.91 239.89 218.49 239.73 218.82 239.86 C219.15 239.99 219.90 240.28 220.51 240.51 C221.13 240.75 221.92 241.05 222.50 241.27 C223.09 241.50 223.69 241.73 224.02 241.85 C224.36 241.98 224.08 241.88 224.49 242.03 C224.90 242.19 225.69 242.49 226.48 242.78 C227.28 243.08 227.91 243.32 229.24 243.81 C230.58 244.29 232.73 245.08 234.48 245.70 C236.22 246.32 237.97 246.93 239.72 247.52 C241.48 248.11 243.23 248.70 244.99 249.26 C246.74 249.83 248.50 250.38 250.26 250.92 C252.02 251.46 253.78 251.99 255.55 252.50 C257.31 253.01 259.08 253.51 260.85 254.00 C262.62 254.49 264.39 254.96 266.16 255.43 C267.93 255.89 269.71 256.34 271.49 256.78 C273.26 257.21 275.04 257.64 276.82 258.05 C278.60 258.47 280.38 258.87 282.17 259.26 C283.95 259.65 285.74 260.03 287.53 260.39 C289.31 260.76 291.10 261.12 292.89 261.46 C294.68 261.81 296.48 262.14 298.27 262.47 C300.07 262.79 301.86 263.11 303.66 263.41 C305.46 263.71 307.25 264.01 309.05 264.29 C310.85 264.58 312.66 264.85 314.46 265.12 C316.26 265.38 318.07 265.64 319.87 265.89 C321.68 266.14 323.49 266.38 325.29 266.61 C327.10 266.84 328.91 267.07 330.72 267.28 C332.53 267.50 334.35 267.71 336.16 267.91 C337.97 268.11 339.79 268.30 341.60 268.49 C343.42 268.67 345.23 268.85 347.05 269.03 C348.87 269.20 350.69 269.37 352.50 269.53 C354.32 269.69 356.14 269.84 357.97 269.99 C359.79 270.14 361.61 270.29 363.43 270.42 C365.25 270.56 367.08 270.70 368.90 270.83 C370.73 270.95 372.55 271.08 374.38 271.20 C376.20 271.32 378.03 271.43 379.86 271.54 C381.68 271.66 383.51 271.76 385.34 271.87 C387.17 271.97 389.00 272.07 390.82 272.17 C392.65 272.27 394.48 272.36 396.31 272.45 C398.14 272.55 399.97 272.64 401.80 272.72 C403.64 272.81 405.47 272.90 407.30 272.98 C409.13 273.06 410.96 273.15 412.79 273.23 C414.63 273.31 416.46 273.39 418.29 273.46 C420.12 273.54 421.95 273.62 423.79 273.70 C425.62 273.78 427.45 273.85 429.29 273.93 C431.12 274.01 432.95 274.08 434.78 274.16 C436.62 274.24 438.45 274.32 440.28 274.39 C442.11 274.47 443.95 274.55 445.78 274.63 C447.61 274.71 449.44 274.80 451.28 274.88 C453.11 274.96 454.94 275.05 456.77 275.14 C458.60 275.22 460.43 275.31 462.27 275.40 C464.10 275.49 465.93 275.58 467.76 275.67 C469.59 275.76 471.42 275.86 473.25 275.95 C475.08 276.05 476.91 276.15 478.74 276.24 C480.57 276.34 482.40 276.44 484.23 276.54 C486.06 276.65 487.89 276.75 489.72 276.85 C491.55 276.96 493.38 277.07 495.21 277.17 C497.04 277.28 498.87 277.39 500.70 277.50 C502.53 277.62 504.35 277.73 506.18 277.84 C508.01 277.96 509.84 278.08 511.67 278.19 C513.50 278.31 515.33 278.43 517.15 278.56 C518.98 278.68 520.81 278.80 522.64 278.93 C524.46 279.06 526.29 279.18 528.12 279.31 C529.95 279.44 531.77 279.58 533.60 279.71 C535.43 279.84 537.25 279.98 539.08 280.12 C540.91 280.25 542.73 280.39 544.56 280.54 C546.39 280.68 548.21 280.82 550.04 280.97 C551.86 281.11 553.69 281.26 555.52 281.41 C557.34 281.56 559.17 281.71 560.99 281.87 C562.82 282.02 564.64 282.18 566.47 282.34 C568.29 282.50 570.12 282.66 571.94 282.82 C573.77 282.98 575.59 283.15 577.42 283.32 C579.24 283.48 581.07 283.65 582.89 283.83 C584.71 284.00 586.54 284.17 588.36 284.35 C590.19 284.53 592.01 284.71 593.83 284.89 C595.66 285.07 597.48 285.25 599.30 285.44 C601.13 285.62 602.95 285.81 604.77 286.00 C606.60 286.20 608.42 286.39 610.24 286.58 C612.06 286.78 613.89 286.98 615.71 287.18 C617.53 287.38 619.35 287.58 621.18 287.79 C623.00 288.00 624.82 288.21 626.64 288.42 C628.46 288.63 630.28 288.84 632.11 289.06 C633.93 289.27 635.75 289.49 637.57 289.71 C639.39 289.93 641.21 290.15 643.03 290.38 C644.85 290.60 646.68 290.83 648.50 291.06 C650.32 291.29 652.14 291.52 653.96 291.75 C655.78 291.98 657.60 292.22 659.42 292.45 C661.24 292.69 663.06 292.92 664.88 293.16 C666.70 293.40 668.52 293.64 670.34 293.89 C672.16 294.13 673.97 294.37 675.79 294.62 C677.61 294.86 679.43 295.11 681.25 295.36 C683.07 295.61 684.89 295.86 686.71 296.11 C688.53 296.36 690.34 296.61 692.16 296.86 C693.98 297.11 695.80 297.37 697.62 297.62 C699.44 297.88 701.25 298.13 703.07 298.39 C704.89 298.65 706.71 298.90 708.52 299.16 C710.34 299.42 712.16 299.68 713.98 299.94 C715.79 300.20 717.61 300.46 719.43 300.72 C721.25 300.98 723.06 301.24 724.88 301.50 C726.70 301.76 728.51 302.02 730.33 302.28 C732.15 302.55 733.96 302.81 735.78 303.07 C737.59 303.33 739.41 303.60 741.23 303.86 C743.04 304.12 744.86 304.38 746.67 304.65 C748.49 304.91 750.30 305.17 752.12 305.43 C753.94 305.70 755.75 305.96 757.57 306.22 C759.38 306.48 761.20 306.74 763.01 307.00 C764.83 307.27 766.64 307.53 768.46 307.79 C770.27 308.05 772.08 308.31 773.90 308.57 C775.71 308.82 777.53 309.08 779.34 309.34 C781.16 309.60 782.97 309.86 784.78 310.11 C786.60 310.37 788.41 310.62 790.23 310.88 C792.04 311.13 793.85 311.38 795.67 311.64 C797.48 311.89 799.29 312.14 801.11 312.39 C802.92 312.64 804.73 312.89 806.55 313.14 C808.36 313.38 810.17 313.63 811.98 313.87 C813.80 314.12 815.61 314.36 817.42 314.60 C819.23 314.85 821.05 315.09 822.86 315.32 C824.67 315.56 826.48 315.80 828.29 316.03 C830.11 316.27 831.92 316.50 833.73 316.73 C835.54 316.97 837.35 317.20 839.17 317.42 C840.98 317.65 843.69 317.99 844.60 318.10"/>
<path class="ln" stroke="#7a1c24" d="M51.16 206.49 C51.52 206.49 52.59 206.47 53.30 206.48 C54.01 206.48 54.92 206.49 55.43 206.50 C55.93 206.51 55.99 206.51 56.34 206.52 C56.69 206.52 56.99 206.53 57.55 206.54 C58.10 206.54 59.00 206.56 59.66 206.55 C60.31 206.55 61.11 206.53 61.46 206.52 C61.81 206.51 61.36 206.53 61.75 206.51 C62.15 206.49 63.15 206.44 63.84 206.38 C64.53 206.31 65.47 206.18 65.91 206.12 C66.36 206.05 66.17 206.07 66.51 206.01 C66.85 205.95 67.39 205.83 67.97 205.74 C68.55 205.66 69.43 205.52 70.01 205.49 C70.60 205.46 71.14 205.53 71.47 205.55 C71.81 205.58 71.61 205.54 72.04 205.66 C72.47 205.78 73.38 206.05 74.05 206.27 C74.72 206.50 75.66 206.87 76.04 207.01 C76.42 207.15 76.01 206.99 76.34 207.12 C76.66 207.25 77.41 207.54 78.01 207.79 C78.62 208.04 79.46 208.40 79.97 208.62 C80.48 208.85 80.77 208.98 81.10 209.12 C81.42 209.27 81.46 209.28 81.91 209.49 C82.37 209.70 83.20 210.09 83.84 210.39 C84.48 210.69 85.44 211.16 85.76 211.31 C86.08 211.47 85.46 211.17 85.78 211.32 C86.10 211.48 87.04 211.94 87.67 212.26 C88.30 212.57 89.11 212.98 89.57 213.21 C90.02 213.44 90.08 213.47 90.40 213.63 C90.71 213.79 90.97 213.92 91.46 214.17 C91.95 214.42 92.75 214.84 93.34 215.14 C93.92 215.43 94.66 215.81 94.97 215.97 C95.28 216.13 94.86 215.91 95.22 216.09 C95.57 216.27 96.47 216.72 97.09 217.04 C97.71 217.35 98.55 217.77 98.96 217.97 C99.36 218.17 99.21 218.09 99.52 218.25 C99.83 218.40 100.30 218.64 100.82 218.90 C101.35 219.16 102.15 219.55 102.69 219.82 C103.22 220.08 103.73 220.34 104.04 220.49 C104.35 220.64 104.15 220.54 104.55 220.74 C104.94 220.93 105.78 221.35 106.40 221.65 C107.02 221.96 107.90 222.40 108.26 222.57 C108.62 222.75 108.24 222.57 108.55 222.72 C108.86 222.87 109.54 223.21 110.11 223.50 C110.68 223.78 111.47 224.18 111.96 224.42 C112.45 224.67 112.74 224.82 113.05 224.97 C113.36 225.13 113.37 225.14 113.81 225.36 C114.24 225.58 115.04 225.99 115.66 226.30 C116.27 226.62 117.19 227.10 117.50 227.26 C117.82 227.42 117.23 227.12 117.54 227.28 C117.84 227.44 118.74 227.91 119.35 228.23 C119.96 228.55 120.75 228.97 121.19 229.20 C121.64 229.44 121.71 229.48 122.02 229.64 C122.33 229.81 122.56 229.93 123.04 230.19 C123.52 230.44 124.31 230.86 124.89 231.17 C125.46 231.48 126.20 231.88 126.51 232.05 C126.81 232.21 126.39 231.98 126.73 232.17 C127.08 232.35 127.96 232.83 128.58 233.17 C129.20 233.50 130.02 233.95 130.43 234.17 C130.83 234.38 130.69 234.31 131.00 234.47 C131.31 234.64 131.76 234.88 132.28 235.17 C132.80 235.45 133.59 235.88 134.13 236.17 C134.66 236.46 135.19 236.74 135.50 236.91 C135.80 237.08 135.59 236.96 135.98 237.17 C136.37 237.38 137.22 237.84 137.84 238.17 C138.46 238.50 139.33 238.97 139.70 239.17 C140.06 239.36 139.70 239.17 140.01 239.33 C140.32 239.50 140.99 239.86 141.56 240.16 C142.12 240.46 142.92 240.88 143.42 241.15 C143.92 241.41 144.22 241.57 144.54 241.73 C144.85 241.90 144.85 241.90 145.29 242.13 C145.72 242.35 146.53 242.78 147.16 243.10 C147.78 243.42 148.71 243.90 149.03 244.06 C149.35 244.23 148.77 243.93 149.09 244.09 C149.40 244.25 150.29 244.71 150.91 245.02 C151.53 245.33 152.34 245.73 152.80 245.96 C153.26 246.19 153.35 246.23 153.66 246.39 C153.98 246.54 154.20 246.65 154.69 246.89 C155.17 247.13 155.98 247.52 156.58 247.81 C157.18 248.09 157.95 248.46 158.27 248.61 C158.58 248.76 158.13 248.54 158.48 248.71 C158.83 248.87 159.75 249.30 160.39 249.60 C161.02 249.89 161.88 250.27 162.30 250.46 C162.72 250.65 162.58 250.59 162.90 250.74 C163.22 250.88 163.68 251.08 164.21 251.32 C164.75 251.55 165.58 251.91 166.14 252.15 C166.70 252.39 167.26 252.62 167.58 252.76 C167.90 252.89 167.67 252.79 168.07 252.96 C168.47 253.13 169.36 253.49 170.01 253.75 C170.66 254.01 171.57 254.37 171.95 254.52 C172.34 254.67 171.97 254.53 172.30 254.65 C172.62 254.78 173.31 255.04 173.91 255.26 C174.50 255.49 175.34 255.80 175.87 255.99 C176.39 256.18 176.73 256.30 177.06 256.42 C177.39 256.54 177.38 256.54 177.83 256.70 C178.29 256.86 179.15 257.16 179.81 257.39 C180.47 257.61 181.44 257.94 181.79 258.06 C182.13 258.17 181.53 257.97 181.86 258.08 C182.19 258.19 183.12 258.50 183.77 258.71 C184.42 258.93 185.27 259.20 185.76 259.36 C186.25 259.51 186.36 259.55 186.69 259.65 C187.02 259.76 187.25 259.83 187.76 259.98 C188.27 260.14 189.13 260.41 189.76 260.60 C190.39 260.79 191.22 261.04 191.56 261.14 C191.89 261.24 191.39 261.10 191.76 261.21 C192.13 261.32 193.10 261.60 193.77 261.80 C194.44 262.00 195.34 262.26 195.79 262.39 C196.23 262.52 196.11 262.48 196.44 262.58 C196.78 262.68 197.24 262.81 197.80 262.97 C198.37 263.13 199.23 263.37 199.83 263.54 C200.42 263.71 201.02 263.88 201.36 263.97 C201.69 264.07 201.43 263.99 201.85 264.11 C202.27 264.23 203.20 264.49 203.88 264.67 C204.55 264.86 205.51 265.12 205.91 265.23 C206.31 265.34 205.95 265.24 206.29 265.34 C206.63 265.43 207.33 265.62 207.94 265.79 C208.56 265.96 209.43 266.20 209.98 266.35 C210.53 266.50 210.89 266.60 211.23 266.69 C211.57 266.79 211.54 266.78 212.01 266.91 C212.48 267.04 213.37 267.28 214.05 267.47 C214.73 267.66 215.74 267.94 216.09 268.03 C216.45 268.13 215.85 267.97 216.19 268.06 C216.53 268.15 217.47 268.42 218.13 268.60 C218.80 268.79 219.67 269.03 220.18 269.18 C220.68 269.32 220.81 269.35 221.15 269.45 C221.49 269.55 221.70 269.61 222.22 269.75 C222.74 269.90 223.61 270.15 224.26 270.34 C224.91 270.52 225.77 270.77 226.11 270.87 C226.45 270.97 225.93 270.82 226.30 270.93 C226.68 271.03 227.67 271.32 228.35 271.52 C229.03 271.71 229.94 271.98 230.39 272.11 C230.85 272.24 230.74 272.21 231.08 272.31 C231.42 272.41 231.87 272.54 232.44 272.70 C233.01 272.87 233.88 273.12 234.48 273.30 C235.09 273.47 235.71 273.65 236.05 273.75 C236.39 273.85 236.11 273.77 236.53 273.89 C236.95 274.01 237.90 274.28 238.58 274.47 C239.26 274.67 240.22 274.94 240.62 275.06 C241.03 275.18 240.68 275.08 241.02 275.17 C241.37 275.27 242.06 275.47 242.67 275.64 C243.29 275.81 244.17 276.06 244.72 276.21 C245.28 276.37 245.66 276.47 246.00 276.57 C246.34 276.66 246.30 276.65 246.77 276.78 C247.24 276.91 248.14 277.15 248.82 277.34 C249.50 277.52 250.51 277.79 250.87 277.89 C251.23 277.98 250.64 277.83 250.98 277.92 C251.32 278.01 252.25 278.25 252.92 278.43 C253.58 278.60 254.46 278.82 254.97 278.95 C255.48 279.08 255.62 279.12 255.96 279.21 C256.31 279.29 256.50 279.34 257.02 279.47 C257.54 279.60 258.42 279.81 259.07 279.97 C259.73 280.13 260.61 280.33 260.95 280.42 C261.29 280.50 260.76 280.37 261.13 280.46 C261.50 280.54 262.50 280.77 263.18 280.93 C263.86 281.08 264.77 281.28 265.23 281.38 C265.69 281.49 265.60 281.46 265.94 281.54 C266.28 281.61 266.72 281.71 267.29 281.83 C267.85 281.95 268.73 282.13 269.34 282.26 C269.95 282.38 270.59 282.51 270.93 282.58 C271.27 282.65 270.98 282.59 271.40 282.67 C271.82 282.75 272.77 282.94 273.45 283.07 C274.14 283.21 275.09 283.39 275.51 283.47 C275.92 283.55 275.58 283.48 275.93 283.55 C276.27 283.61 276.95 283.74 277.56 283.85 C278.18 283.96 279.06 284.12 279.62 284.22 C280.18 284.32 280.58 284.39 280.93 284.45 C281.27 284.51 281.21 284.50 281.68 284.58 C282.15 284.66 283.05 284.81 283.74 284.93 C284.42 285.05 285.43 285.21 285.79 285.27 C286.16 285.33 285.07 285.16 285.93 285.29 C286.78 285.43 289.26 285.83 290.93 286.09 C292.60 286.35 294.27 286.61 295.94 286.85 C297.60 287.10 299.27 287.34 300.94 287.58 C302.61 287.83 304.28 288.06 305.96 288.30 C307.63 288.53 309.30 288.76 310.97 288.99 C312.64 289.23 314.31 289.46 315.99 289.69 C317.66 289.92 319.33 290.15 321.00 290.38 C322.68 290.62 324.35 290.85 326.03 291.08 C327.70 291.31 329.38 291.55 331.05 291.78 C332.73 292.01 334.40 292.25 336.08 292.48 C337.75 292.71 339.43 292.95 341.11 293.18 C342.78 293.41 344.46 293.65 346.14 293.88 C347.81 294.11 349.49 294.35 351.17 294.58 C352.85 294.81 354.53 295.05 356.21 295.28 C357.89 295.51 359.57 295.74 361.24 295.98 C362.92 296.21 364.60 296.44 366.29 296.67 C367.97 296.91 369.65 297.14 371.33 297.37 C373.01 297.60 374.69 297.83 376.37 298.06 C378.05 298.29 379.74 298.52 381.42 298.75 C383.10 298.98 384.78 299.21 386.47 299.44 C388.15 299.66 389.83 299.89 391.52 300.12 C393.20 300.35 394.89 300.57 396.57 300.80 C398.26 301.02 399.94 301.25 401.63 301.47 C403.31 301.70 405.00 301.92 406.68 302.15 C408.37 302.37 410.05 302.59 411.74 302.81 C413.43 303.03 415.11 303.25 416.80 303.47 C418.49 303.69 420.18 303.91 421.86 304.13 C423.55 304.34 425.24 304.56 426.93 304.77 C428.61 304.99 430.30 305.20 431.99 305.42 C433.68 305.63 435.37 305.84 437.06 306.05 C438.75 306.26 440.44 306.47 442.13 306.68 C443.82 306.89 445.51 307.10 447.20 307.30 C448.89 307.51 450.58 307.71 452.27 307.91 C453.96 308.12 455.65 308.32 457.34 308.52 C459.04 308.72 460.73 308.92 462.42 309.11 C464.11 309.31 465.80 309.51 467.50 309.70 C469.19 309.89 470.88 310.09 472.57 310.28 C474.27 310.47 475.96 310.66 477.65 310.84 C479.35 311.03 481.04 311.22 482.73 311.40 C484.43 311.58 486.12 311.77 487.82 311.95 C489.51 312.13 491.20 312.31 492.90 312.48 C494.59 312.66 496.29 312.84 497.98 313.01 C499.68 313.18 501.37 313.36 503.07 313.53 C504.76 313.70 506.46 313.87 508.16 314.03 C509.85 314.20 511.55 314.37 513.24 314.53 C514.94 314.69 516.64 314.86 518.33 315.02 C520.03 315.18 521.73 315.34 523.42 315.49 C525.12 315.65 526.82 315.81 528.51 315.96 C530.21 316.12 531.91 316.27 533.61 316.42 C535.30 316.58 537.00 316.73 538.70 316.87 C540.40 317.02 542.10 317.17 543.79 317.32 C545.49 317.46 547.19 317.61 548.89 317.75 C550.59 317.89 552.29 318.04 553.98 318.18 C555.68 318.32 557.38 318.46 559.08 318.59 C560.78 318.73 562.48 318.87 564.18 319.00 C565.88 319.14 567.58 319.27 569.28 319.40 C570.98 319.54 572.67 319.67 574.37 319.80 C576.07 319.93 577.77 320.06 579.47 320.18 C581.17 320.31 582.87 320.44 584.57 320.56 C586.27 320.69 587.97 320.81 589.67 320.93 C591.37 321.05 593.07 321.18 594.77 321.30 C596.48 321.42 598.18 321.53 599.88 321.65 C601.58 321.77 603.28 321.89 604.98 322.00 C606.68 322.12 608.38 322.23 610.08 322.34 C611.78 322.46 613.48 322.57 615.18 322.68 C616.88 322.79 618.59 322.90 620.29 323.01 C621.99 323.12 623.69 323.23 625.39 323.33 C627.09 323.44 628.79 323.55 630.49 323.65 C632.19 323.76 633.90 323.86 635.60 323.96 C637.30 324.07 639.00 324.17 640.70 324.27 C642.40 324.37 644.10 324.47 645.81 324.57 C647.51 324.67 649.21 324.76 650.91 324.86 C652.61 324.96 654.31 325.05 656.01 325.15 C657.72 325.25 659.42 325.34 661.12 325.43 C662.82 325.53 664.52 325.62 666.22 325.71 C667.92 325.80 669.63 325.90 671.33 325.99 C673.03 326.08 674.73 326.17 676.43 326.25 C678.13 326.34 679.83 326.43 681.54 326.52 C683.24 326.61 684.94 326.69 686.64 326.78 C688.34 326.86 690.04 326.95 691.74 327.03 C693.45 327.12 695.15 327.20 696.85 327.28 C698.55 327.37 700.25 327.45 701.95 327.53 C703.65 327.61 705.35 327.69 707.06 327.77 C708.76 327.85 710.46 327.93 712.16 328.01 C713.86 328.09 715.56 328.17 717.26 328.25 C718.96 328.33 720.66 328.40 722.36 328.48 C724.06 328.56 725.76 328.63 727.46 328.71 C729.16 328.78 730.87 328.86 732.57 328.93 C734.27 329.01 735.97 329.08 737.67 329.16 C739.37 329.23 741.07 329.30 742.77 329.38 C744.47 329.45 746.17 329.52 747.87 329.59 C749.57 329.67 751.27 329.74 752.97 329.81 C754.66 329.88 756.36 329.95 758.06 330.02 C759.76 330.09 761.46 330.16 763.16 330.23 C764.86 330.30 766.56 330.37 768.26 330.44 C769.96 330.51 771.66 330.57 773.35 330.64 C775.05 330.71 776.75 330.78 778.45 330.85 C780.15 330.91 781.85 330.98 783.54 331.05 C785.24 331.12 786.94 331.18 788.64 331.25 C790.34 331.32 792.03 331.38 793.73 331.45 C795.43 331.52 797.13 331.58 798.82 331.65 C800.52 331.71 802.22 331.78 803.91 331.84 C805.61 331.91 807.31 331.98 809.00 332.04 C810.70 332.11 812.40 332.17 814.09 332.24 C815.79 332.30 817.48 332.37 819.18 332.43 C820.87 332.50 822.57 332.56 824.27 332.62 C825.96 332.69 827.66 332.75 829.35 332.82 C831.05 332.88 832.74 332.95 834.43 333.01 C836.13 333.08 837.82 333.14 839.52 333.21 C841.21 333.27 843.75 333.37 844.60 333.40"/>
<line x1="306.7" y1="509.9" x2="329.6" y2="509.9" stroke="#c6323e" stroke-width="1.3"/>
<text class="tick" transform="translate(332.20 513.00) rotate(0.05) scale(0.980 1)" text-anchor="start">10-1</text>
<line x1="362.9" y1="509.9" x2="385.8" y2="509.9" stroke="#40e0b4" stroke-width="1.3"/>
<text class="tick" transform="translate(388.40 513.00) rotate(0.05) scale(0.980 1)" text-anchor="start">12-1</text>
<line x1="419.1" y1="509.9" x2="442.0" y2="509.9" stroke="#a3a3a3" stroke-width="1.3"/>
<text class="tick" transform="translate(444.60 513.00) rotate(0.05) scale(0.980 1)" text-anchor="start">15-1</text>
<line x1="475.3" y1="509.9" x2="498.2" y2="509.9" stroke="#2fc8ec" stroke-width="1.3"/>
<text class="tick" transform="translate(500.80 513.00) rotate(0.05) scale(0.980 1)" text-anchor="start">20-1</text>
<line x1="531.5" y1="509.9" x2="554.4" y2="509.9" stroke="#d2506a" stroke-width="1.3"/>
<text class="tick" transform="translate(557.00 513.00) rotate(0.05) scale(0.980 1)" text-anchor="start">30-1</text>
<line x1="587.7" y1="509.9" x2="610.6" y2="509.9" stroke="#3b3f9e" stroke-width="1.3"/>
<text class="tick" transform="translate(613.20 513.00) rotate(0.05) scale(0.980 1)" text-anchor="start">60-1</text>
<line x1="643.9" y1="509.9" x2="666.8" y2="509.9" stroke="#7a1c24" stroke-width="1.3"/>
<text class="tick" transform="translate(669.40 513.00) rotate(0.05) scale(0.980 1)" text-anchor="start">120-1</text>
</svg></body></html>
